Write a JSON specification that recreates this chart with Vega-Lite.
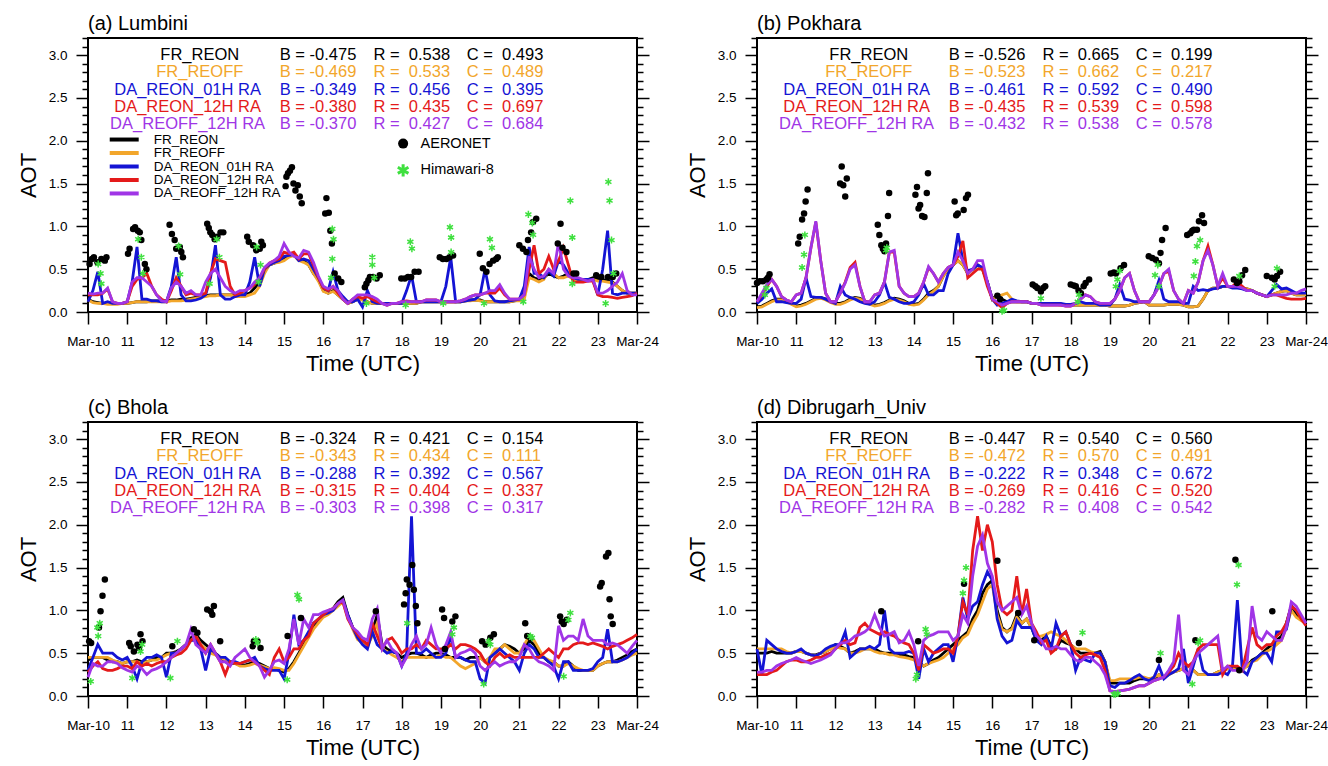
{
"$schema":"https://vega.github.io/schema/vega-lite/v6.json",
"padding":{"left":16,"top":13,"right":4,"bottom":4},
"config":{"font":"Liberation Sans","view":{"stroke":"black","strokeWidth":2}},
"columns":2,
"spacing":{"row":110,"column":120},
"bounds":"flush",
"datasets":{
"la":[
{"d":10,"k":0.15,"o":0.14,"b":0.12,"r":0.2,"v":0.22},{"d":10.125,"k":0.12,"o":0.11,"b":0.25,"r":0.2,"v":0.21},{"d":10.25,"k":0.11,"o":0.1,"b":0.47,"r":0.2,"v":0.22},{"d":10.375,"k":0.1,"o":0.1,"b":0.1,"r":0.22,"v":0.22},{"d":10.5,"k":0.1,"o":0.09,"b":0.12,"r":0.27,"v":0.28},{"d":10.625,"k":0.1,"o":0.09,"b":0.1,"r":0.12,"v":0.12},{"d":10.75,"k":0.1,"o":0.09,"b":0.1,"r":0.1,"v":0.1},{"d":10.875,"k":0.1,"o":0.1,"b":0.1,"r":0.1,"v":0.1},
{"d":11,"k":0.1,"o":0.1,"b":0.12,"r":0.12,"v":0.12},{"d":11.125,"k":0.11,"o":0.11,"b":0.35,"r":0.3,"v":0.35},{"d":11.25,"k":0.12,"o":0.12,"b":0.76,"r":0.38,"v":0.4},{"d":11.375,"k":0.12,"o":0.12,"b":0.15,"r":0.4,"v":0.4},{"d":11.5,"k":0.12,"o":0.12,"b":0.15,"r":0.45,"v":0.35},{"d":11.625,"k":0.13,"o":0.12,"b":0.13,"r":0.3,"v":0.3},{"d":11.75,"k":0.13,"o":0.12,"b":0.13,"r":0.2,"v":0.2},{"d":11.875,"k":0.13,"o":0.12,"b":0.12,"r":0.15,"v":0.13},
{"d":12,"k":0.13,"o":0.12,"b":0.12,"r":0.12,"v":0.12},{"d":12.125,"k":0.14,"o":0.13,"b":0.3,"r":0.25,"v":0.28},{"d":12.25,"k":0.14,"o":0.13,"b":0.64,"r":0.4,"v":0.35},{"d":12.375,"k":0.15,"o":0.13,"b":0.2,"r":0.3,"v":0.3},{"d":12.5,"k":0.15,"o":0.14,"b":0.13,"r":0.2,"v":0.22},{"d":12.625,"k":0.16,"o":0.15,"b":0.13,"r":0.22,"v":0.25},{"d":12.75,"k":0.17,"o":0.16,"b":0.14,"r":0.2,"v":0.2},{"d":12.875,"k":0.18,"o":0.17,"b":0.16,"r":0.2,"v":0.2},
{"d":13,"k":0.19,"o":0.18,"b":0.2,"r":0.22,"v":0.35},{"d":13.125,"k":0.2,"o":0.19,"b":0.4,"r":0.45,"v":0.45},{"d":13.25,"k":0.2,"o":0.19,"b":0.78,"r":0.62,"v":0.5},{"d":13.375,"k":0.2,"o":0.2,"b":0.2,"r":0.6,"v":0.4},{"d":13.5,"k":0.2,"o":0.2,"b":0.15,"r":0.58,"v":0.3},{"d":13.625,"k":0.2,"o":0.2,"b":0.15,"r":0.3,"v":0.25},{"d":13.75,"k":0.2,"o":0.18,"b":0.18,"r":0.2,"v":0.22},{"d":13.875,"k":0.2,"o":0.18,"b":0.2,"r":0.22,"v":0.25},
{"d":14,"k":0.2,"o":0.18,"b":0.2,"r":0.25,"v":0.25},{"d":14.125,"k":0.22,"o":0.2,"b":0.35,"r":0.28,"v":0.28},{"d":14.25,"k":0.28,"o":0.22,"b":0.64,"r":0.32,"v":0.35},{"d":14.375,"k":0.35,"o":0.3,"b":0.3,"r":0.4,"v":0.4},{"d":14.5,"k":0.48,"o":0.45,"b":0.5,"r":0.5,"v":0.52},{"d":14.625,"k":0.55,"o":0.55,"b":0.55,"r":0.57,"v":0.57},{"d":14.75,"k":0.57,"o":0.57,"b":0.58,"r":0.6,"v":0.6},{"d":14.875,"k":0.6,"o":0.58,"b":0.6,"r":0.62,"v":0.65},
{"d":15,"k":0.62,"o":0.6,"b":0.65,"r":0.7,"v":0.8},{"d":15.125,"k":0.65,"o":0.64,"b":0.66,"r":0.68,"v":0.7},{"d":15.25,"k":0.68,"o":0.66,"b":0.67,"r":0.7,"v":0.65},{"d":15.375,"k":0.62,"o":0.6,"b":0.6,"r":0.62,"v":0.63},{"d":15.5,"k":0.6,"o":0.58,"b":0.62,"r":0.68,"v":0.72},{"d":15.625,"k":0.55,"o":0.55,"b":0.6,"r":0.68,"v":0.7},{"d":15.75,"k":0.45,"o":0.45,"b":0.5,"r":0.55,"v":0.58},{"d":15.875,"k":0.38,"o":0.36,"b":0.4,"r":0.4,"v":0.42},
{"d":16,"k":0.25,"o":0.24,"b":0.28,"r":0.28,"v":0.3},{"d":16.125,"k":0.22,"o":0.22,"b":0.25,"r":0.25,"v":0.27},{"d":16.25,"k":0.25,"o":0.24,"b":0.47,"r":0.3,"v":0.3},{"d":16.375,"k":0.2,"o":0.2,"b":0.25,"r":0.22,"v":0.25},{"d":16.5,"k":0.15,"o":0.15,"b":0.18,"r":0.15,"v":0.15},{"d":16.625,"k":0.1,"o":0.1,"b":0.12,"r":0.1,"v":0.1},{"d":16.75,"k":0.12,"o":0.12,"b":0.12,"r":0.15,"v":0.15},{"d":16.875,"k":0.15,"o":0.15,"b":0.15,"r":0.18,"v":0.2},
{"d":17,"k":0.15,"o":0.14,"b":0.06,"r":0.16,"v":0.2},{"d":17.125,"k":0.12,"o":0.12,"b":0.25,"r":0.18,"v":0.2},{"d":17.25,"k":0.1,"o":0.1,"b":0.12,"r":0.15,"v":0.18},{"d":17.375,"k":0.1,"o":0.1,"b":0.1,"r":0.12,"v":0.15},{"d":17.5,"k":0.1,"o":0.1,"b":0.1,"r":0.1,"v":0.1},{"d":17.625,"k":0.1,"o":0.1,"b":0.1,"r":0.08,"v":0.08},{"d":17.75,"k":0.1,"o":0.1,"b":0.1,"r":0.1,"v":0.1},{"d":17.875,"k":0.1,"o":0.1,"b":0.1,"r":0.1,"v":0.1},
{"d":18,"k":0.1,"o":0.1,"b":0.1,"r":0.12,"v":0.12},{"d":18.125,"k":0.1,"o":0.1,"b":0.25,"r":0.13,"v":0.12},{"d":18.25,"k":0.1,"o":0.1,"b":0.43,"r":0.12,"v":0.12},{"d":18.375,"k":0.1,"o":0.1,"b":0.12,"r":0.12,"v":0.12},{"d":18.5,"k":0.12,"o":0.12,"b":0.12,"r":0.12,"v":0.12},{"d":18.625,"k":0.12,"o":0.12,"b":0.12,"r":0.14,"v":0.14},{"d":18.75,"k":0.12,"o":0.12,"b":0.12,"r":0.14,"v":0.14},{"d":18.875,"k":0.12,"o":0.12,"b":0.12,"r":0.14,"v":0.14},
{"d":19,"k":0.12,"o":0.12,"b":0.12,"r":0.12,"v":0.12},{"d":19.125,"k":0.12,"o":0.12,"b":0.3,"r":0.12,"v":0.12},{"d":19.25,"k":0.12,"o":0.12,"b":0.64,"r":0.12,"v":0.12},{"d":19.375,"k":0.12,"o":0.12,"b":0.12,"r":0.12,"v":0.12},{"d":19.5,"k":0.12,"o":0.12,"b":0.12,"r":0.13,"v":0.13},{"d":19.625,"k":0.13,"o":0.13,"b":0.13,"r":0.15,"v":0.15},{"d":19.75,"k":0.14,"o":0.13,"b":0.14,"r":0.18,"v":0.18},{"d":19.875,"k":0.14,"o":0.14,"b":0.15,"r":0.2,"v":0.2},
{"d":20,"k":0.14,"o":0.13,"b":0.2,"r":0.2,"v":0.2},{"d":20.125,"k":0.12,"o":0.12,"b":0.5,"r":0.22,"v":0.22},{"d":20.25,"k":0.12,"o":0.12,"b":0.2,"r":0.22,"v":0.25},{"d":20.375,"k":0.12,"o":0.12,"b":0.13,"r":0.22,"v":0.25},{"d":20.5,"k":0.12,"o":0.12,"b":0.12,"r":0.28,"v":0.32},{"d":20.625,"k":0.12,"o":0.12,"b":0.12,"r":0.2,"v":0.22},{"d":20.75,"k":0.12,"o":0.12,"b":0.13,"r":0.15,"v":0.15},{"d":20.875,"k":0.13,"o":0.13,"b":0.14,"r":0.15,"v":0.15},
{"d":21,"k":0.14,"o":0.13,"b":0.15,"r":0.15,"v":0.15},{"d":21.125,"k":0.2,"o":0.15,"b":0.3,"r":0.2,"v":0.2},{"d":21.25,"k":0.45,"o":0.4,"b":0.76,"r":0.5,"v":0.65},{"d":21.375,"k":0.4,"o":0.38,"b":0.45,"r":0.78,"v":0.5},{"d":21.5,"k":0.38,"o":0.35,"b":0.45,"r":0.45,"v":0.4},{"d":21.625,"k":0.4,"o":0.38,"b":0.4,"r":0.5,"v":0.42},{"d":21.75,"k":0.45,"o":0.5,"b":0.48,"r":0.65,"v":0.5},{"d":21.875,"k":0.42,"o":0.45,"b":0.42,"r":0.5,"v":0.45},
{"d":22,"k":0.4,"o":0.4,"b":0.6,"r":0.6,"v":0.82},{"d":22.125,"k":0.42,"o":0.4,"b":0.55,"r":0.75,"v":0.5},{"d":22.25,"k":0.45,"o":0.42,"b":0.45,"r":0.55,"v":0.42},{"d":22.375,"k":0.4,"o":0.38,"b":0.4,"r":0.35,"v":0.4},{"d":22.5,"k":0.38,"o":0.36,"b":0.38,"r":0.35,"v":0.4},{"d":22.625,"k":0.38,"o":0.38,"b":0.38,"r":0.35,"v":0.38},{"d":22.75,"k":0.38,"o":0.38,"b":0.38,"r":0.36,"v":0.36},{"d":22.875,"k":0.4,"o":0.38,"b":0.38,"r":0.36,"v":0.38},
{"d":23,"k":0.38,"o":0.36,"b":0.2,"r":0.2,"v":0.22},{"d":23.125,"k":0.38,"o":0.36,"b":0.5,"r":0.18,"v":0.22},{"d":23.25,"k":0.36,"o":0.35,"b":0.95,"r":0.18,"v":0.25},{"d":23.375,"k":0.35,"o":0.34,"b":0.22,"r":0.17,"v":0.3},{"d":23.5,"k":0.3,"o":0.3,"b":0.2,"r":0.16,"v":0.35},{"d":23.625,"k":0.25,"o":0.25,"b":0.22,"r":0.17,"v":0.45},{"d":23.75,"k":0.22,"o":0.22,"b":0.22,"r":0.18,"v":0.25},{"d":23.875,"k":0.22,"o":0.22,"b":0.22,"r":0.19,"v":0.2},
{"d":24,"k":0.22,"o":0.22,"b":0.22,"r":0.22,"v":0.2}],
"lb":[
{"d":10,"k":0.06,"o":0.05,"b":0.1,"r":0.12,"v":0.12},{"d":10.125,"k":0.07,"o":0.06,"b":0.15,"r":0.2,"v":0.22},{"d":10.25,"k":0.1,"o":0.09,"b":0.22,"r":0.3,"v":0.32},{"d":10.375,"k":0.13,"o":0.12,"b":0.27,"r":0.38,"v":0.38},{"d":10.5,"k":0.15,"o":0.14,"b":0.12,"r":0.3,"v":0.3},{"d":10.625,"k":0.15,"o":0.14,"b":0.12,"r":0.18,"v":0.18},{"d":10.75,"k":0.13,"o":0.12,"b":0.11,"r":0.14,"v":0.14},{"d":10.875,"k":0.1,"o":0.09,"b":0.1,"r":0.12,"v":0.12},
{"d":11,"k":0.07,"o":0.06,"b":0.1,"r":0.2,"v":0.2},{"d":11.125,"k":0.08,"o":0.07,"b":0.15,"r":0.22,"v":0.22},{"d":11.25,"k":0.1,"o":0.09,"b":0.4,"r":0.4,"v":0.4},{"d":11.375,"k":0.13,"o":0.12,"b":0.18,"r":0.75,"v":0.75},{"d":11.5,"k":0.16,"o":0.15,"b":0.17,"r":1.05,"v":1.06},{"d":11.625,"k":0.17,"o":0.16,"b":0.17,"r":0.6,"v":0.6},{"d":11.75,"k":0.15,"o":0.14,"b":0.15,"r":0.22,"v":0.22},{"d":11.875,"k":0.12,"o":0.11,"b":0.12,"r":0.12,"v":0.12},
{"d":12,"k":0.1,"o":0.09,"b":0.1,"r":0.12,"v":0.12},{"d":12.125,"k":0.1,"o":0.09,"b":0.3,"r":0.22,"v":0.22},{"d":12.25,"k":0.12,"o":0.11,"b":0.2,"r":0.35,"v":0.34},{"d":12.375,"k":0.15,"o":0.14,"b":0.17,"r":0.52,"v":0.5},{"d":12.5,"k":0.17,"o":0.16,"b":0.15,"r":0.58,"v":0.55},{"d":12.625,"k":0.16,"o":0.15,"b":0.12,"r":0.3,"v":0.3},{"d":12.75,"k":0.13,"o":0.12,"b":0.1,"r":0.12,"v":0.12},{"d":12.875,"k":0.1,"o":0.09,"b":0.09,"r":0.12,"v":0.12},
{"d":13,"k":0.08,"o":0.07,"b":0.12,"r":0.2,"v":0.2},{"d":13.125,"k":0.09,"o":0.08,"b":0.2,"r":0.22,"v":0.22},{"d":13.25,"k":0.11,"o":0.1,"b":0.35,"r":0.35,"v":0.35},{"d":13.375,"k":0.14,"o":0.13,"b":0.17,"r":0.7,"v":0.7},{"d":13.5,"k":0.16,"o":0.15,"b":0.15,"r":0.7,"v":0.72},{"d":13.625,"k":0.15,"o":0.14,"b":0.12,"r":0.3,"v":0.3},{"d":13.75,"k":0.13,"o":0.12,"b":0.1,"r":0.22,"v":0.22},{"d":13.875,"k":0.1,"o":0.09,"b":0.1,"r":0.18,"v":0.18},
{"d":14,"k":0.09,"o":0.08,"b":0.12,"r":0.18,"v":0.18},{"d":14.125,"k":0.1,"o":0.09,"b":0.2,"r":0.22,"v":0.22},{"d":14.25,"k":0.15,"o":0.14,"b":0.33,"r":0.35,"v":0.35},{"d":14.375,"k":0.22,"o":0.2,"b":0.2,"r":0.52,"v":0.53},{"d":14.5,"k":0.25,"o":0.24,"b":0.2,"r":0.45,"v":0.45},{"d":14.625,"k":0.3,"o":0.3,"b":0.25,"r":0.35,"v":0.35},{"d":14.75,"k":0.42,"o":0.42,"b":0.25,"r":0.45,"v":0.45},{"d":14.875,"k":0.5,"o":0.5,"b":0.45,"r":0.52,"v":0.52},
{"d":15,"k":0.55,"o":0.55,"b":0.55,"r":0.55,"v":0.55},{"d":15.125,"k":0.6,"o":0.6,"b":0.92,"r":0.65,"v":0.7},{"d":15.25,"k":0.55,"o":0.55,"b":0.6,"r":0.83,"v":0.6},{"d":15.375,"k":0.45,"o":0.45,"b":0.48,"r":0.4,"v":0.45},{"d":15.5,"k":0.5,"o":0.5,"b":0.5,"r":0.45,"v":0.5},{"d":15.625,"k":0.55,"o":0.55,"b":0.55,"r":0.5,"v":0.6},{"d":15.75,"k":0.5,"o":0.5,"b":0.52,"r":0.5,"v":0.6},{"d":15.875,"k":0.35,"o":0.35,"b":0.35,"r":0.3,"v":0.35},
{"d":16,"k":0.15,"o":0.15,"b":0.15,"r":0.15,"v":0.15},{"d":16.125,"k":0.2,"o":0.18,"b":0.08,"r":0.1,"v":0.12},{"d":16.25,"k":0.15,"o":0.2,"b":0.1,"r":0.05,"v":0.08},{"d":16.375,"k":0.12,"o":0.22,"b":0.12,"r":0.1,"v":0.1},{"d":16.5,"k":0.12,"o":0.15,"b":0.15,"r":0.12,"v":0.12},{"d":16.625,"k":0.12,"o":0.12,"b":0.13,"r":0.12,"v":0.12},{"d":16.75,"k":0.12,"o":0.12,"b":0.12,"r":0.12,"v":0.12},{"d":16.875,"k":0.12,"o":0.12,"b":0.12,"r":0.12,"v":0.12},
{"d":17,"k":0.1,"o":0.1,"b":0.1,"r":0.1,"v":0.1},{"d":17.125,"k":0.1,"o":0.1,"b":0.1,"r":0.1,"v":0.1},{"d":17.25,"k":0.1,"o":0.1,"b":0.1,"r":0.08,"v":0.08},{"d":17.375,"k":0.09,"o":0.09,"b":0.1,"r":0.08,"v":0.08},{"d":17.5,"k":0.09,"o":0.09,"b":0.1,"r":0.08,"v":0.08},{"d":17.625,"k":0.09,"o":0.09,"b":0.1,"r":0.08,"v":0.08},{"d":17.75,"k":0.09,"o":0.08,"b":0.1,"r":0.08,"v":0.08},{"d":17.875,"k":0.08,"o":0.08,"b":0.09,"r":0.07,"v":0.07},
{"d":18,"k":0.08,"o":0.08,"b":0.09,"r":0.07,"v":0.07},{"d":18.125,"k":0.08,"o":0.08,"b":0.1,"r":0.1,"v":0.1},{"d":18.25,"k":0.08,"o":0.08,"b":0.12,"r":0.15,"v":0.15},{"d":18.375,"k":0.08,"o":0.08,"b":0.1,"r":0.2,"v":0.2},{"d":18.5,"k":0.08,"o":0.08,"b":0.1,"r":0.18,"v":0.18},{"d":18.625,"k":0.08,"o":0.08,"b":0.1,"r":0.12,"v":0.12},{"d":18.75,"k":0.08,"o":0.08,"b":0.08,"r":0.1,"v":0.1},{"d":18.875,"k":0.08,"o":0.08,"b":0.08,"r":0.1,"v":0.1},
{"d":19,"k":0.07,"o":0.07,"b":0.08,"r":0.1,"v":0.1},{"d":19.125,"k":0.07,"o":0.07,"b":0.15,"r":0.15,"v":0.15},{"d":19.25,"k":0.07,"o":0.07,"b":0.32,"r":0.25,"v":0.25},{"d":19.375,"k":0.07,"o":0.07,"b":0.15,"r":0.4,"v":0.4},{"d":19.5,"k":0.08,"o":0.08,"b":0.14,"r":0.45,"v":0.45},{"d":19.625,"k":0.1,"o":0.1,"b":0.12,"r":0.25,"v":0.25},{"d":19.75,"k":0.11,"o":0.11,"b":0.12,"r":0.12,"v":0.12},{"d":19.875,"k":0.12,"o":0.12,"b":0.12,"r":0.12,"v":0.12},
{"d":20,"k":0.08,"o":0.08,"b":0.12,"r":0.12,"v":0.12},{"d":20.125,"k":0.08,"o":0.08,"b":0.2,"r":0.2,"v":0.2},{"d":20.25,"k":0.08,"o":0.08,"b":0.37,"r":0.3,"v":0.3},{"d":20.375,"k":0.08,"o":0.08,"b":0.15,"r":0.45,"v":0.45},{"d":20.5,"k":0.09,"o":0.09,"b":0.12,"r":0.48,"v":0.5},{"d":20.625,"k":0.09,"o":0.09,"b":0.12,"r":0.25,"v":0.25},{"d":20.75,"k":0.09,"o":0.09,"b":0.12,"r":0.15,"v":0.15},{"d":20.875,"k":0.08,"o":0.08,"b":0.1,"r":0.1,"v":0.1},
{"d":21,"k":0.06,"o":0.06,"b":0.1,"r":0.25,"v":0.25},{"d":21.125,"k":0.06,"o":0.06,"b":0.3,"r":0.22,"v":0.22},{"d":21.25,"k":0.07,"o":0.07,"b":0.25,"r":0.35,"v":0.35},{"d":21.375,"k":0.15,"o":0.15,"b":0.26,"r":0.6,"v":0.6},{"d":21.5,"k":0.25,"o":0.25,"b":0.25,"r":0.77,"v":0.72},{"d":21.625,"k":0.28,"o":0.28,"b":0.27,"r":0.55,"v":0.55},{"d":21.75,"k":0.28,"o":0.28,"b":0.28,"r":0.3,"v":0.3},{"d":21.875,"k":0.3,"o":0.3,"b":0.3,"r":0.4,"v":0.45},
{"d":22,"k":0.3,"o":0.3,"b":0.3,"r":0.3,"v":0.3},{"d":22.125,"k":0.3,"o":0.3,"b":0.28,"r":0.3,"v":0.3},{"d":22.25,"k":0.3,"o":0.3,"b":0.28,"r":0.35,"v":0.3},{"d":22.375,"k":0.28,"o":0.28,"b":0.27,"r":0.3,"v":0.28},{"d":22.5,"k":0.27,"o":0.27,"b":0.25,"r":0.25,"v":0.25},{"d":22.625,"k":0.25,"o":0.25,"b":0.25,"r":0.25,"v":0.25},{"d":22.75,"k":0.22,"o":0.22,"b":0.22,"r":0.22,"v":0.22},{"d":22.875,"k":0.2,"o":0.2,"b":0.2,"r":0.2,"v":0.2},
{"d":23,"k":0.18,"o":0.18,"b":0.18,"r":0.18,"v":0.18},{"d":23.125,"k":0.2,"o":0.2,"b":0.25,"r":0.2,"v":0.2},{"d":23.25,"k":0.22,"o":0.22,"b":0.32,"r":0.2,"v":0.2},{"d":23.375,"k":0.24,"o":0.24,"b":0.27,"r":0.18,"v":0.2},{"d":23.5,"k":0.25,"o":0.25,"b":0.28,"r":0.16,"v":0.2},{"d":23.625,"k":0.22,"o":0.22,"b":0.25,"r":0.15,"v":0.22},{"d":23.75,"k":0.2,"o":0.2,"b":0.22,"r":0.15,"v":0.22},{"d":23.875,"k":0.2,"o":0.2,"b":0.22,"r":0.15,"v":0.25},
{"d":24,"k":0.2,"o":0.2,"b":0.22,"r":0.16,"v":0.27}],
"lc":[
{"d":10,"k":0.42,"o":0.45,"b":0.3,"r":0.28,"v":0.22},{"d":10.125,"k":0.45,"o":0.45,"b":0.45,"r":0.35,"v":0.38},{"d":10.25,"k":0.45,"o":0.45,"b":0.6,"r":0.4,"v":0.35},{"d":10.375,"k":0.45,"o":0.45,"b":0.5,"r":0.32,"v":0.35},{"d":10.5,"k":0.42,"o":0.45,"b":0.5,"r":0.3,"v":0.4},{"d":10.625,"k":0.4,"o":0.42,"b":0.5,"r":0.3,"v":0.4},{"d":10.75,"k":0.4,"o":0.4,"b":0.45,"r":0.32,"v":0.38},{"d":10.875,"k":0.38,"o":0.38,"b":0.42,"r":0.35,"v":0.33},
{"d":11,"k":0.4,"o":0.4,"b":0.45,"r":0.35,"v":0.3},{"d":11.125,"k":0.4,"o":0.4,"b":0.35,"r":0.32,"v":0.28},{"d":11.25,"k":0.42,"o":0.4,"b":0.2,"r":0.4,"v":0.35},{"d":11.375,"k":0.4,"o":0.38,"b":0.4,"r":0.35,"v":0.32},{"d":11.5,"k":0.4,"o":0.4,"b":0.45,"r":0.38,"v":0.25},{"d":11.625,"k":0.42,"o":0.42,"b":0.45,"r":0.35,"v":0.3},{"d":11.75,"k":0.45,"o":0.42,"b":0.48,"r":0.38,"v":0.32},{"d":11.875,"k":0.45,"o":0.45,"b":0.45,"r":0.4,"v":0.35},
{"d":12,"k":0.5,"o":0.48,"b":0.22,"r":0.4,"v":0.4},{"d":12.125,"k":0.5,"o":0.5,"b":0.5,"r":0.45,"v":0.45},{"d":12.25,"k":0.52,"o":0.5,"b":0.5,"r":0.48,"v":0.5},{"d":12.375,"k":0.55,"o":0.55,"b":0.55,"r":0.5,"v":0.55},{"d":12.5,"k":0.6,"o":0.6,"b":0.6,"r":0.55,"v":0.6},{"d":12.625,"k":0.68,"o":0.65,"b":0.65,"r":0.65,"v":0.78},{"d":12.75,"k":0.72,"o":0.7,"b":0.65,"r":0.7,"v":0.6},{"d":12.875,"k":0.65,"o":0.6,"b":0.55,"r":0.6,"v":0.55},
{"d":13,"k":0.6,"o":0.55,"b":0.3,"r":0.5,"v":0.5},{"d":13.125,"k":0.55,"o":0.5,"b":0.55,"r":0.6,"v":0.6},{"d":13.25,"k":0.5,"o":0.48,"b":0.5,"r":0.5,"v":0.5},{"d":13.375,"k":0.45,"o":0.45,"b":0.45,"r":0.4,"v":0.4},{"d":13.5,"k":0.4,"o":0.42,"b":0.45,"r":0.25,"v":0.4},{"d":13.625,"k":0.38,"o":0.4,"b":0.4,"r":0.4,"v":0.35},{"d":13.75,"k":0.38,"o":0.38,"b":0.4,"r":0.38,"v":0.45},{"d":13.875,"k":0.36,"o":0.35,"b":0.38,"r":0.38,"v":0.5},
{"d":14,"k":0.36,"o":0.35,"b":0.4,"r":0.4,"v":0.55},{"d":14.125,"k":0.38,"o":0.36,"b":0.42,"r":0.42,"v":0.45},{"d":14.25,"k":0.4,"o":0.38,"b":0.45,"r":0.4,"v":0.4},{"d":14.375,"k":0.38,"o":0.36,"b":0.35,"r":0.35,"v":0.35},{"d":14.5,"k":0.35,"o":0.34,"b":0.32,"r":0.3,"v":0.22},{"d":14.625,"k":0.32,"o":0.32,"b":0.3,"r":0.25,"v":0.3},{"d":14.75,"k":0.32,"o":0.33,"b":0.3,"r":0.45,"v":0.4},{"d":14.875,"k":0.3,"o":0.32,"b":0.3,"r":0.55,"v":0.42},
{"d":15,"k":0.28,"o":0.3,"b":0.2,"r":0.4,"v":0.38},{"d":15.125,"k":0.32,"o":0.3,"b":0.5,"r":0.45,"v":0.55},{"d":15.25,"k":0.4,"o":0.38,"b":0.95,"r":0.55,"v":0.9},{"d":15.375,"k":0.5,"o":0.48,"b":0.6,"r":0.55,"v":0.6},{"d":15.5,"k":0.6,"o":0.58,"b":0.65,"r":0.65,"v":0.9},{"d":15.625,"k":0.7,"o":0.68,"b":0.75,"r":0.7,"v":0.8},{"d":15.75,"k":0.8,"o":0.78,"b":0.85,"r":0.85,"v":0.95},{"d":15.875,"k":0.88,"o":0.85,"b":0.9,"r":0.9,"v":0.95},
{"d":16,"k":0.95,"o":0.92,"b":0.95,"r":0.95,"v":0.98},{"d":16.125,"k":0.98,"o":0.95,"b":0.97,"r":1.0,"v":1.0},{"d":16.25,"k":1.02,"o":1.0,"b":1.0,"r":1.02,"v":1.02},{"d":16.375,"k":1.1,"o":1.05,"b":1.08,"r":1.08,"v":1.08},{"d":16.5,"k":1.15,"o":1.1,"b":1.12,"r":1.1,"v":1.12},{"d":16.625,"k":0.95,"o":0.92,"b":0.95,"r":0.9,"v":0.92},{"d":16.75,"k":0.8,"o":0.78,"b":0.8,"r":0.8,"v":0.8},{"d":16.875,"k":0.68,"o":0.66,"b":0.68,"r":0.72,"v":0.75},
{"d":17,"k":0.65,"o":0.62,"b":0.6,"r":0.65,"v":0.68},{"d":17.125,"k":0.6,"o":0.58,"b":0.55,"r":0.6,"v":0.65},{"d":17.25,"k":0.75,"o":0.7,"b":0.75,"r":0.85,"v":0.9},{"d":17.375,"k":0.95,"o":0.85,"b":0.6,"r":0.7,"v":1.02},{"d":17.5,"k":0.6,"o":0.55,"b":0.55,"r":0.55,"v":0.55},{"d":17.625,"k":0.55,"o":0.52,"b":0.5,"r":0.65,"v":0.65},{"d":17.75,"k":0.52,"o":0.48,"b":0.52,"r":0.68,"v":0.55},{"d":17.875,"k":0.5,"o":0.45,"b":0.5,"r":0.6,"v":0.5},
{"d":18,"k":0.45,"o":0.4,"b":0.35,"r":0.5,"v":0.35},{"d":18.125,"k":0.48,"o":0.45,"b":0.5,"r":0.55,"v":0.45},{"d":18.25,"k":0.5,"o":0.45,"b":2.1,"r":0.55,"v":0.6},{"d":18.375,"k":0.5,"o":0.45,"b":0.5,"r":0.6,"v":0.7},{"d":18.5,"k":0.48,"o":0.45,"b":0.5,"r":0.55,"v":0.55},{"d":18.625,"k":0.45,"o":0.45,"b":0.55,"r":0.65,"v":0.6},{"d":18.75,"k":0.48,"o":0.45,"b":0.5,"r":0.6,"v":0.8},{"d":18.875,"k":0.5,"o":0.45,"b":0.45,"r":0.55,"v":0.6},
{"d":19,"k":0.5,"o":0.48,"b":0.45,"r":0.55,"v":0.5},{"d":19.125,"k":0.48,"o":0.45,"b":0.5,"r":0.55,"v":0.6},{"d":19.25,"k":0.45,"o":0.45,"b":0.7,"r":0.6,"v":0.75},{"d":19.375,"k":0.45,"o":0.4,"b":0.45,"r":0.55,"v":0.45},{"d":19.5,"k":0.45,"o":0.35,"b":0.45,"r":0.6,"v":0.5},{"d":19.625,"k":0.42,"o":0.32,"b":0.42,"r":0.6,"v":0.52},{"d":19.75,"k":0.45,"o":0.35,"b":0.4,"r":0.58,"v":0.55},{"d":19.875,"k":0.45,"o":0.38,"b":0.4,"r":0.55,"v":0.5},
{"d":20,"k":0.45,"o":0.45,"b":0.2,"r":0.5,"v":0.35},{"d":20.125,"k":0.4,"o":0.4,"b":0.15,"r":0.4,"v":0.3},{"d":20.25,"k":0.45,"o":0.45,"b":0.45,"r":0.35,"v":0.35},{"d":20.375,"k":0.5,"o":0.55,"b":0.5,"r":0.45,"v":0.4},{"d":20.5,"k":0.55,"o":0.55,"b":0.55,"r":0.5,"v":0.35},{"d":20.625,"k":0.6,"o":0.6,"b":0.5,"r":0.45,"v":0.38},{"d":20.75,"k":0.58,"o":0.55,"b":0.45,"r":0.48,"v":0.4},{"d":20.875,"k":0.55,"o":0.5,"b":0.4,"r":0.45,"v":0.4},
{"d":21,"k":0.5,"o":0.5,"b":0.3,"r":0.45,"v":0.45},{"d":21.125,"k":0.55,"o":0.6,"b":0.5,"r":0.45,"v":0.6},{"d":21.25,"k":0.65,"o":0.7,"b":0.6,"r":0.45,"v":0.55},{"d":21.375,"k":0.6,"o":0.65,"b":0.55,"r":0.45,"v":0.45},{"d":21.5,"k":0.5,"o":0.55,"b":0.45,"r":0.45,"v":0.4},{"d":21.625,"k":0.45,"o":0.45,"b":0.45,"r":0.5,"v":0.38},{"d":21.75,"k":0.4,"o":0.42,"b":0.4,"r":0.55,"v":0.35},{"d":21.875,"k":0.4,"o":0.4,"b":0.35,"r":0.5,"v":0.3},
{"d":22,"k":0.35,"o":0.35,"b":0.2,"r":0.45,"v":0.82},{"d":22.125,"k":0.35,"o":0.35,"b":0.4,"r":0.55,"v":0.65},{"d":22.25,"k":0.4,"o":0.38,"b":0.4,"r":0.55,"v":0.7},{"d":22.375,"k":0.35,"o":0.35,"b":0.3,"r":0.6,"v":0.7},{"d":22.5,"k":0.3,"o":0.32,"b":0.3,"r":0.62,"v":0.65},{"d":22.625,"k":0.3,"o":0.3,"b":0.3,"r":0.62,"v":0.9},{"d":22.75,"k":0.3,"o":0.3,"b":0.3,"r":0.6,"v":0.7},{"d":22.875,"k":0.3,"o":0.3,"b":0.32,"r":0.62,"v":0.65},
{"d":23,"k":0.35,"o":0.35,"b":0.4,"r":0.6,"v":0.65},{"d":23.125,"k":0.38,"o":0.38,"b":0.45,"r":0.58,"v":0.65},{"d":23.25,"k":0.4,"o":0.4,"b":0.78,"r":0.55,"v":0.6},{"d":23.375,"k":0.4,"o":0.4,"b":0.4,"r":0.58,"v":0.62},{"d":23.5,"k":0.42,"o":0.4,"b":0.4,"r":0.6,"v":0.6},{"d":23.625,"k":0.45,"o":0.42,"b":0.42,"r":0.62,"v":0.55},{"d":23.75,"k":0.48,"o":0.45,"b":0.45,"r":0.65,"v":0.5},{"d":23.875,"k":0.52,"o":0.48,"b":0.5,"r":0.68,"v":0.58},
{"d":24,"k":0.55,"o":0.5,"b":0.55,"r":0.72,"v":0.65}],
"ld":[
{"d":10,"k":0.5,"o":0.55,"b":0.55,"r":0.25,"v":0.28},{"d":10.125,"k":0.5,"o":0.55,"b":0.25,"r":0.25,"v":0.28},{"d":10.25,"k":0.5,"o":0.55,"b":0.65,"r":0.25,"v":0.3},{"d":10.375,"k":0.52,"o":0.55,"b":0.6,"r":0.28,"v":0.3},{"d":10.5,"k":0.5,"o":0.55,"b":0.55,"r":0.3,"v":0.35},{"d":10.625,"k":0.5,"o":0.55,"b":0.52,"r":0.35,"v":0.38},{"d":10.75,"k":0.5,"o":0.52,"b":0.5,"r":0.4,"v":0.4},{"d":10.875,"k":0.5,"o":0.5,"b":0.5,"r":0.42,"v":0.42},
{"d":11,"k":0.52,"o":0.52,"b":0.52,"r":0.42,"v":0.45},{"d":11.125,"k":0.52,"o":0.52,"b":0.55,"r":0.4,"v":0.42},{"d":11.25,"k":0.5,"o":0.5,"b":0.5,"r":0.4,"v":0.4},{"d":11.375,"k":0.48,"o":0.48,"b":0.48,"r":0.42,"v":0.38},{"d":11.5,"k":0.48,"o":0.47,"b":0.47,"r":0.45,"v":0.4},{"d":11.625,"k":0.5,"o":0.5,"b":0.5,"r":0.45,"v":0.42},{"d":11.75,"k":0.52,"o":0.52,"b":0.55,"r":0.48,"v":0.45},{"d":11.875,"k":0.55,"o":0.55,"b":0.58,"r":0.5,"v":0.48},
{"d":12,"k":0.6,"o":0.58,"b":0.6,"r":0.55,"v":0.55},{"d":12.125,"k":0.58,"o":0.56,"b":0.6,"r":0.6,"v":0.62},{"d":12.25,"k":0.55,"o":0.55,"b":0.75,"r":0.65,"v":0.62},{"d":12.375,"k":0.5,"o":0.5,"b":0.45,"r":0.6,"v":0.65},{"d":12.5,"k":0.52,"o":0.5,"b":0.5,"r":0.62,"v":0.7},{"d":12.625,"k":0.55,"o":0.52,"b":0.55,"r":0.8,"v":0.72},{"d":12.75,"k":0.55,"o":0.55,"b":0.55,"r":0.85,"v":0.75},{"d":12.875,"k":0.55,"o":0.55,"b":0.58,"r":0.78,"v":0.8},
{"d":13,"k":0.55,"o":0.52,"b":0.55,"r":0.75,"v":0.95},{"d":13.125,"k":0.52,"o":0.5,"b":0.6,"r":0.72,"v":0.8},{"d":13.25,"k":0.5,"o":0.5,"b":1.0,"r":0.75,"v":0.7},{"d":13.375,"k":0.5,"o":0.48,"b":0.55,"r":0.72,"v":0.72},{"d":13.5,"k":0.5,"o":0.48,"b":0.5,"r":0.7,"v":0.75},{"d":13.625,"k":0.48,"o":0.46,"b":0.5,"r":0.65,"v":0.62},{"d":13.75,"k":0.48,"o":0.45,"b":0.5,"r":0.62,"v":0.65},{"d":13.875,"k":0.46,"o":0.44,"b":0.52,"r":0.6,"v":0.75},
{"d":14,"k":0.45,"o":0.42,"b":0.5,"r":0.5,"v":0.6},{"d":14.125,"k":0.4,"o":0.38,"b":0.2,"r":0.3,"v":0.35},{"d":14.25,"k":0.35,"o":0.35,"b":0.55,"r":0.6,"v":0.65},{"d":14.375,"k":0.38,"o":0.38,"b":0.4,"r":0.55,"v":0.7},{"d":14.5,"k":0.42,"o":0.4,"b":0.5,"r":0.5,"v":0.72},{"d":14.625,"k":0.45,"o":0.42,"b":0.55,"r":0.52,"v":0.75},{"d":14.75,"k":0.5,"o":0.45,"b":0.6,"r":0.55,"v":0.75},{"d":14.875,"k":0.55,"o":0.5,"b":0.6,"r":0.55,"v":0.75},
{"d":15,"k":0.6,"o":0.55,"b":0.4,"r":0.5,"v":0.65},{"d":15.125,"k":0.65,"o":0.6,"b":0.7,"r":0.7,"v":0.7},{"d":15.25,"k":0.7,"o":0.68,"b":1.15,"r":1.1,"v":0.95},{"d":15.375,"k":0.75,"o":0.72,"b":0.9,"r":0.95,"v":0.85},{"d":15.5,"k":0.9,"o":0.85,"b":1.05,"r":1.7,"v":1.4},{"d":15.625,"k":1.0,"o":0.95,"b":1.1,"r":2.1,"v":1.75},{"d":15.75,"k":1.2,"o":1.1,"b":1.3,"r":1.7,"v":1.88},{"d":15.875,"k":1.3,"o":1.25,"b":1.45,"r":2.0,"v":1.55},
{"d":16,"k":1.35,"o":1.3,"b":1.35,"r":1.8,"v":1.4},{"d":16.125,"k":1.0,"o":0.95,"b":0.9,"r":1.3,"v":1.1},{"d":16.25,"k":0.8,"o":0.78,"b":0.7,"r":1.0,"v":1.0},{"d":16.375,"k":0.75,"o":0.75,"b":0.62,"r":0.95,"v":1.05},{"d":16.5,"k":0.8,"o":0.78,"b":0.65,"r":1.0,"v":1.1},{"d":16.625,"k":0.95,"o":0.92,"b":0.88,"r":1.4,"v":1.15},{"d":16.75,"k":0.85,"o":0.85,"b":0.8,"r":0.95,"v":0.95},{"d":16.875,"k":0.9,"o":0.9,"b":0.8,"r":1.25,"v":1.05},
{"d":17,"k":0.8,"o":0.8,"b":0.8,"r":0.85,"v":0.85},{"d":17.125,"k":0.65,"o":0.7,"b":0.65,"r":0.75,"v":0.7},{"d":17.25,"k":0.65,"o":0.7,"b":0.6,"r":0.62,"v":0.65},{"d":17.375,"k":0.7,"o":0.72,"b":0.7,"r":0.65,"v":0.55},{"d":17.5,"k":0.58,"o":0.75,"b":0.55,"r":0.5,"v":0.55},{"d":17.625,"k":0.55,"o":0.72,"b":0.85,"r":0.55,"v":0.58},{"d":17.75,"k":0.65,"o":0.7,"b":0.7,"r":0.7,"v":0.55},{"d":17.875,"k":0.62,"o":0.65,"b":0.75,"r":0.75,"v":0.55},
{"d":18,"k":0.6,"o":0.6,"b":0.6,"r":0.6,"v":0.48},{"d":18.125,"k":0.55,"o":0.55,"b":0.3,"r":0.5,"v":0.42},{"d":18.25,"k":0.5,"o":0.55,"b":0.45,"r":0.45,"v":0.4},{"d":18.375,"k":0.5,"o":0.55,"b":0.42,"r":0.48,"v":0.45},{"d":18.5,"k":0.5,"o":0.52,"b":0.4,"r":0.5,"v":0.45},{"d":18.625,"k":0.5,"o":0.5,"b":0.5,"r":0.48,"v":0.4},{"d":18.75,"k":0.52,"o":0.5,"b":0.5,"r":0.45,"v":0.35},{"d":18.875,"k":0.4,"o":0.4,"b":0.4,"r":0.3,"v":0.25},
{"d":19,"k":0.15,"o":0.18,"b":0.12,"r":0.06,"v":0.06},{"d":19.125,"k":0.15,"o":0.18,"b":0.1,"r":0.05,"v":0.05},{"d":19.25,"k":0.15,"o":0.2,"b":0.15,"r":0.06,"v":0.06},{"d":19.375,"k":0.15,"o":0.2,"b":0.15,"r":0.07,"v":0.07},{"d":19.5,"k":0.15,"o":0.2,"b":0.18,"r":0.08,"v":0.08},{"d":19.625,"k":0.18,"o":0.2,"b":0.22,"r":0.1,"v":0.1},{"d":19.75,"k":0.2,"o":0.22,"b":0.25,"r":0.12,"v":0.12},{"d":19.875,"k":0.2,"o":0.22,"b":0.2,"r":0.12,"v":0.12},
{"d":20,"k":0.2,"o":0.2,"b":0.18,"r":0.15,"v":0.15},{"d":20.125,"k":0.2,"o":0.22,"b":0.22,"r":0.18,"v":0.18},{"d":20.25,"k":0.25,"o":0.25,"b":0.35,"r":0.2,"v":0.2},{"d":20.375,"k":0.22,"o":0.22,"b":0.2,"r":0.22,"v":0.22},{"d":20.5,"k":0.25,"o":0.25,"b":0.25,"r":0.28,"v":0.3},{"d":20.625,"k":0.28,"o":0.28,"b":0.28,"r":0.35,"v":0.4},{"d":20.75,"k":0.3,"o":0.3,"b":0.32,"r":0.5,"v":0.95},{"d":20.875,"k":0.32,"o":0.32,"b":0.55,"r":0.4,"v":0.3},
{"d":21,"k":0.35,"o":0.35,"b":0.15,"r":0.35,"v":0.25},{"d":21.125,"k":0.3,"o":0.3,"b":0.35,"r":0.4,"v":0.4},{"d":21.25,"k":0.25,"o":0.25,"b":0.55,"r":0.55,"v":0.5},{"d":21.375,"k":0.25,"o":0.25,"b":0.3,"r":0.6,"v":0.55},{"d":21.5,"k":0.25,"o":0.25,"b":0.25,"r":0.6,"v":0.6},{"d":21.625,"k":0.25,"o":0.25,"b":0.25,"r":0.6,"v":0.65},{"d":21.75,"k":0.28,"o":0.28,"b":0.25,"r":0.6,"v":0.7},{"d":21.875,"k":0.3,"o":0.3,"b":0.28,"r":0.25,"v":0.3},
{"d":22,"k":0.32,"o":0.32,"b":0.25,"r":0.35,"v":0.35},{"d":22.125,"k":0.32,"o":0.32,"b":0.35,"r":0.35,"v":0.3},{"d":22.25,"k":0.32,"o":0.3,"b":1.12,"r":0.35,"v":0.3},{"d":22.375,"k":0.32,"o":0.3,"b":0.3,"r":0.3,"v":0.3},{"d":22.5,"k":0.35,"o":0.35,"b":0.25,"r":0.55,"v":0.4},{"d":22.625,"k":0.42,"o":0.4,"b":0.4,"r":0.8,"v":1.05},{"d":22.75,"k":0.45,"o":0.42,"b":0.45,"r":0.6,"v":0.7},{"d":22.875,"k":0.5,"o":0.48,"b":0.5,"r":0.55,"v":0.65},
{"d":23,"k":0.55,"o":0.52,"b":0.5,"r":0.6,"v":0.75},{"d":23.125,"k":0.6,"o":0.55,"b":0.4,"r":0.6,"v":0.7},{"d":23.25,"k":0.65,"o":0.6,"b":0.75,"r":0.7,"v":0.65},{"d":23.375,"k":0.7,"o":0.65,"b":0.75,"r":0.75,"v":0.65},{"d":23.5,"k":0.85,"o":0.8,"b":0.78,"r":0.85,"v":0.8},{"d":23.625,"k":1.05,"o":1.0,"b":1.05,"r":1.05,"v":1.1},{"d":23.75,"k":0.95,"o":0.92,"b":1.0,"r":1.0,"v":1.05},{"d":23.875,"k":0.9,"o":0.88,"b":0.92,"r":0.9,"v":0.95},
{"d":24,"k":0.85,"o":0.85,"b":0.85,"r":0.82,"v":0.85}],
"aer":[
{"p":"a","d":10.04,"aot":0.56},{"p":"a","d":10.1,"aot":0.62},{"p":"a","d":10.15,"aot":0.64},{"p":"a","d":10.24,"aot":0.58},{"p":"a","d":10.34,"aot":0.62},{"p":"a","d":10.43,"aot":0.6},{"p":"a","d":10.47,"aot":0.64},
{"p":"a","d":11.02,"aot":0.68},{"p":"a","d":11.06,"aot":0.74},{"p":"a","d":11.15,"aot":0.97},{"p":"a","d":11.2,"aot":0.99},{"p":"a","d":11.27,"aot":0.95},{"p":"a","d":11.32,"aot":0.93},{"p":"a","d":11.36,"aot":0.84},{"p":"a","d":11.45,"aot":0.56},{"p":"a","d":11.49,"aot":0.5},
{"p":"a","d":12.08,"aot":1.02},{"p":"a","d":12.14,"aot":0.91},{"p":"a","d":12.21,"aot":0.84},{"p":"a","d":12.25,"aot":0.74},{"p":"a","d":12.34,"aot":0.76},{"p":"a","d":12.38,"aot":0.7},{"p":"a","d":12.42,"aot":0.64},
{"p":"a","d":13.04,"aot":1.03},{"p":"a","d":13.08,"aot":0.98},{"p":"a","d":13.12,"aot":0.93},{"p":"a","d":13.17,"aot":0.9},{"p":"a","d":13.23,"aot":0.85},{"p":"a","d":13.3,"aot":0.88},{"p":"a","d":13.38,"aot":0.93},{"p":"a","d":13.45,"aot":0.93},
{"p":"a","d":14.06,"aot":0.88},{"p":"a","d":14.1,"aot":0.82},{"p":"a","d":14.21,"aot":0.78},{"p":"a","d":14.29,"aot":0.72},{"p":"a","d":14.38,"aot":0.74},{"p":"a","d":14.42,"aot":0.82},{"p":"a","d":14.46,"aot":0.78},
{"p":"a","d":15.04,"aot":1.47},{"p":"a","d":15.06,"aot":1.58},{"p":"a","d":15.1,"aot":1.62},{"p":"a","d":15.15,"aot":1.65},{"p":"a","d":15.2,"aot":1.69},{"p":"a","d":15.24,"aot":1.5},{"p":"a","d":15.29,"aot":1.42},{"p":"a","d":15.35,"aot":1.48},{"p":"a","d":15.4,"aot":1.35},{"p":"a","d":15.45,"aot":1.27},
{"p":"a","d":16.05,"aot":1.15},{"p":"a","d":16.08,"aot":1.33},{"p":"a","d":16.14,"aot":1.16},{"p":"a","d":16.18,"aot":0.95},{"p":"a","d":16.22,"aot":0.8},{"p":"a","d":16.29,"aot":0.45},{"p":"a","d":16.38,"aot":0.39},{"p":"a","d":16.46,"aot":0.35},
{"p":"a","d":17.06,"aot":0.29},{"p":"a","d":17.1,"aot":0.33},{"p":"a","d":17.15,"aot":0.37},{"p":"a","d":17.19,"aot":0.41},{"p":"a","d":17.27,"aot":0.41},{"p":"a","d":17.36,"aot":0.39},{"p":"a","d":17.44,"aot":0.43},
{"p":"a","d":17.99,"aot":0.39},{"p":"a","d":18.08,"aot":0.39},{"p":"a","d":18.16,"aot":0.41},{"p":"a","d":18.24,"aot":0.41},{"p":"a","d":18.33,"aot":0.47},{"p":"a","d":18.43,"aot":0.47},
{"p":"a","d":18.97,"aot":0.64},{"p":"a","d":19.05,"aot":0.62},{"p":"a","d":19.14,"aot":0.62},{"p":"a","d":19.22,"aot":0.64},{"p":"a","d":19.31,"aot":0.66},
{"p":"a","d":19.99,"aot":0.68},{"p":"a","d":20.07,"aot":0.51},{"p":"a","d":20.16,"aot":0.47},{"p":"a","d":20.24,"aot":0.56},{"p":"a","d":20.33,"aot":0.6},{"p":"a","d":20.41,"aot":0.62},{"p":"a","d":20.45,"aot":0.64},
{"p":"a","d":21.0,"aot":0.78},{"p":"a","d":21.09,"aot":0.74},{"p":"a","d":21.18,"aot":0.7},{"p":"a","d":21.22,"aot":0.84},{"p":"a","d":21.3,"aot":0.93},{"p":"a","d":21.35,"aot":1.05},{"p":"a","d":21.43,"aot":1.09},
{"p":"a","d":21.98,"aot":0.8},{"p":"a","d":22.05,"aot":1.03},{"p":"a","d":22.1,"aot":0.75},{"p":"a","d":22.2,"aot":0.7},{"p":"a","d":22.38,"aot":0.45},{"p":"a","d":22.45,"aot":0.45},
{"p":"a","d":22.96,"aot":0.43},{"p":"a","d":23.09,"aot":0.41},{"p":"a","d":23.26,"aot":0.41},{"p":"a","d":23.38,"aot":0.41},{"p":"a","d":23.47,"aot":0.45},
{"p":"b","d":10.0,"aot":0.34},{"p":"b","d":10.07,"aot":0.36},{"p":"b","d":10.15,"aot":0.36},{"p":"b","d":10.24,"aot":0.38},{"p":"b","d":10.28,"aot":0.4},{"p":"b","d":10.32,"aot":0.44},
{"p":"b","d":11.05,"aot":0.8},{"p":"b","d":11.09,"aot":0.88},{"p":"b","d":11.15,"aot":1.08},{"p":"b","d":11.2,"aot":1.15},{"p":"b","d":11.24,"aot":1.29},{"p":"b","d":11.29,"aot":1.43},
{"p":"b","d":12.12,"aot":1.5},{"p":"b","d":12.16,"aot":1.7},{"p":"b","d":12.2,"aot":1.48},{"p":"b","d":12.25,"aot":1.35},{"p":"b","d":12.29,"aot":1.56},
{"p":"b","d":13.08,"aot":1.02},{"p":"b","d":13.12,"aot":0.9},{"p":"b","d":13.17,"aot":0.78},{"p":"b","d":13.21,"aot":0.74},{"p":"b","d":13.25,"aot":0.71},{"p":"b","d":13.29,"aot":0.8},{"p":"b","d":13.34,"aot":1.12},{"p":"b","d":13.37,"aot":1.39},
{"p":"b","d":14.04,"aot":1.37},{"p":"b","d":14.08,"aot":1.46},{"p":"b","d":14.12,"aot":1.21},{"p":"b","d":14.16,"aot":1.25},{"p":"b","d":14.21,"aot":1.12},{"p":"b","d":14.27,"aot":1.11},{"p":"b","d":14.33,"aot":1.39},{"p":"b","d":14.36,"aot":1.62},
{"p":"b","d":15.04,"aot":1.29},{"p":"b","d":15.08,"aot":1.13},{"p":"b","d":15.12,"aot":1.15},{"p":"b","d":15.27,"aot":1.19},{"p":"b","d":15.33,"aot":1.33},{"p":"b","d":15.38,"aot":1.37},
{"p":"b","d":16.13,"aot":0.19},{"p":"b","d":16.2,"aot":0.15},
{"p":"b","d":17.03,"aot":0.32},{"p":"b","d":17.1,"aot":0.3},{"p":"b","d":17.15,"aot":0.28},{"p":"b","d":17.24,"aot":0.24},{"p":"b","d":17.3,"aot":0.28},{"p":"b","d":17.35,"aot":0.3},
{"p":"b","d":18.0,"aot":0.32},{"p":"b","d":18.08,"aot":0.31},{"p":"b","d":18.13,"aot":0.3},{"p":"b","d":18.2,"aot":0.25},{"p":"b","d":18.26,"aot":0.22},{"p":"b","d":18.33,"aot":0.3},{"p":"b","d":18.38,"aot":0.34},{"p":"b","d":18.47,"aot":0.38},
{"p":"b","d":19.02,"aot":0.45},{"p":"b","d":19.1,"aot":0.46},{"p":"b","d":19.15,"aot":0.45},{"p":"b","d":19.27,"aot":0.51},{"p":"b","d":19.36,"aot":0.55},
{"p":"b","d":19.99,"aot":0.65},{"p":"b","d":20.08,"aot":0.63},{"p":"b","d":20.17,"aot":0.61},{"p":"b","d":20.25,"aot":0.57},{"p":"b","d":20.29,"aot":0.69},{"p":"b","d":20.33,"aot":0.84},{"p":"b","d":20.42,"aot":0.98},
{"p":"b","d":20.97,"aot":0.9},{"p":"b","d":21.05,"aot":0.92},{"p":"b","d":21.1,"aot":0.95},{"p":"b","d":21.14,"aot":0.96},{"p":"b","d":21.22,"aot":0.96},{"p":"b","d":21.27,"aot":1.06},{"p":"b","d":21.35,"aot":1.13},{"p":"b","d":21.4,"aot":1.04},
{"p":"b","d":22.16,"aot":0.38},{"p":"b","d":22.24,"aot":0.34},{"p":"b","d":22.3,"aot":0.36},{"p":"b","d":22.37,"aot":0.43},{"p":"b","d":22.45,"aot":0.49},
{"p":"b","d":23.0,"aot":0.42},{"p":"b","d":23.13,"aot":0.4},{"p":"b","d":23.2,"aot":0.38},{"p":"b","d":23.26,"aot":0.42},{"p":"b","d":23.34,"aot":0.47},
{"p":"c","d":10.03,"aot":0.64},{"p":"c","d":10.08,"aot":0.62},{"p":"c","d":10.28,"aot":0.8},{"p":"c","d":10.32,"aot":0.99},{"p":"c","d":10.37,"aot":1.17},{"p":"c","d":10.43,"aot":1.36},
{"p":"c","d":11.05,"aot":0.62},{"p":"c","d":11.09,"aot":0.58},{"p":"c","d":11.17,"aot":0.52},{"p":"c","d":11.26,"aot":0.6},{"p":"c","d":11.3,"aot":0.56},{"p":"c","d":11.34,"aot":0.72},{"p":"c","d":11.39,"aot":0.64},
{"p":"c","d":12.15,"aot":0.58},{"p":"c","d":12.7,"aot":0.78},{"p":"c","d":12.79,"aot":0.74},
{"p":"c","d":13.04,"aot":1.01},{"p":"c","d":13.13,"aot":0.99},{"p":"c","d":13.17,"aot":0.95},{"p":"c","d":13.21,"aot":1.05},{"p":"c","d":13.37,"aot":0.64},
{"p":"c","d":14.2,"aot":0.58},{"p":"c","d":14.23,"aot":0.64},{"p":"c","d":14.32,"aot":0.64},{"p":"c","d":14.4,"aot":0.56},
{"p":"c","d":15.09,"aot":0.7},{"p":"c","d":15.43,"aot":0.91},{"p":"c","d":17.34,"aot":0.99},
{"p":"c","d":18.06,"aot":1.07},{"p":"c","d":18.1,"aot":1.2},{"p":"c","d":18.13,"aot":1.36},{"p":"c","d":18.2,"aot":1.3},{"p":"c","d":18.27,"aot":1.53},{"p":"c","d":18.31,"aot":1.24},{"p":"c","d":18.36,"aot":1.05},{"p":"c","d":18.4,"aot":0.85},
{"p":"c","d":19.03,"aot":1.01},{"p":"c","d":19.08,"aot":0.91},{"p":"c","d":19.1,"aot":0.55},{"p":"c","d":19.29,"aot":0.87},{"p":"c","d":19.37,"aot":0.93},
{"p":"c","d":20.05,"aot":0.64},{"p":"c","d":20.14,"aot":0.6},{"p":"c","d":20.26,"aot":0.68},{"p":"c","d":20.35,"aot":0.72},
{"p":"c","d":21.15,"aot":0.85},{"p":"c","d":21.2,"aot":0.7},{"p":"c","d":21.28,"aot":0.68},
{"p":"c","d":22.04,"aot":0.93},{"p":"c","d":22.08,"aot":0.87},{"p":"c","d":22.13,"aot":0.84},{"p":"c","d":22.21,"aot":0.89},
{"p":"c","d":23.06,"aot":1.28},{"p":"c","d":23.1,"aot":1.32},{"p":"c","d":23.21,"aot":1.63},{"p":"c","d":23.27,"aot":1.67},{"p":"c","d":23.3,"aot":1.13},{"p":"c","d":23.33,"aot":0.93},{"p":"c","d":23.38,"aot":0.84},
{"p":"d","d":13.17,"aot":0.99},{"p":"d","d":14.11,"aot":0.64},{"p":"d","d":15.28,"aot":1.31},{"p":"d","d":16.13,"aot":1.58},{"p":"d","d":16.66,"aot":0.97},{"p":"d","d":17.07,"aot":0.65},{"p":"d","d":18.21,"aot":0.62},{"p":"d","d":20.25,"aot":0.42},{"p":"d","d":21.18,"aot":0.65},{"p":"d","d":22.2,"aot":1.59},{"p":"d","d":22.3,"aot":0.3},{"p":"d","d":23.14,"aot":0.99}],
"him":[
{"p":"a","d":10.26,"aot":0.56},{"p":"a","d":10.32,"aot":0.45},{"p":"a","d":10.34,"aot":0.33},{"p":"a","d":11.28,"aot":0.85},{"p":"a","d":11.36,"aot":0.64},{"p":"a","d":11.4,"aot":0.45},{"p":"a","d":12.31,"aot":0.77},{"p":"a","d":12.35,"aot":0.44},{"p":"a","d":13.1,"aot":0.33},{"p":"a","d":13.28,"aot":0.85},{"p":"a","d":13.35,"aot":0.64},{"p":"a","d":14.3,"aot":0.76},{"p":"a","d":14.35,"aot":0.35},{"p":"a","d":14.4,"aot":0.55},{"p":"a","d":16.2,"aot":0.4},{"p":"a","d":16.23,"aot":0.62},{"p":"a","d":16.23,"aot":0.97},{"p":"a","d":16.26,"aot":0.85},{"p":"a","d":17.1,"aot":0.1},{"p":"a","d":17.25,"aot":0.64},{"p":"a","d":17.25,"aot":0.55},{"p":"a","d":17.3,"aot":0.4},{"p":"a","d":18.1,"aot":0.08},{"p":"a","d":18.22,"aot":0.82},{"p":"a","d":18.26,"aot":0.74},{"p":"a","d":19.06,"aot":0.1},{"p":"a","d":19.23,"aot":0.99},{"p":"a","d":19.26,"aot":0.87},{"p":"a","d":19.26,"aot":0.7},{"p":"a","d":20.1,"aot":0.1},{"p":"a","d":20.25,"aot":0.85},{"p":"a","d":20.3,"aot":0.75},{"p":"a","d":21.1,"aot":0.12},{"p":"a","d":21.23,"aot":1.14},{"p":"a","d":21.33,"aot":1.04},{"p":"a","d":21.35,"aot":0.9},{"p":"a","d":22.3,"aot":1.3},{"p":"a","d":22.35,"aot":0.87},{"p":"a","d":22.35,"aot":0.33},{"p":"a","d":23.2,"aot":0.1},{"p":"a","d":23.27,"aot":1.52},{"p":"a","d":23.3,"aot":1.3},{"p":"a","d":23.35,"aot":0.84},{"p":"a","d":23.4,"aot":0.45},
{"p":"b","d":10.2,"aot":0.2},{"p":"b","d":10.24,"aot":0.28},{"p":"b","d":11.15,"aot":0.52},{"p":"b","d":11.2,"aot":0.67},{"p":"b","d":11.22,"aot":0.9},{"p":"b","d":13.29,"aot":0.72},{"p":"b","d":13.31,"aot":0.75},{"p":"b","d":16.25,"aot":0.01},{"p":"b","d":16.3,"aot":0.02},{"p":"b","d":17.24,"aot":0.16},{"p":"b","d":18.18,"aot":0.12},{"p":"b","d":18.21,"aot":0.2},{"p":"b","d":19.15,"aot":0.3},{"p":"b","d":19.19,"aot":0.38},{"p":"b","d":19.25,"aot":0.48},{"p":"b","d":20.15,"aot":0.43},{"p":"b","d":20.22,"aot":0.55},{"p":"b","d":20.25,"aot":0.3},{"p":"b","d":21.14,"aot":0.42},{"p":"b","d":21.18,"aot":0.59},{"p":"b","d":21.22,"aot":0.77},{"p":"b","d":21.3,"aot":0.84},{"p":"b","d":22.3,"aot":0.42},{"p":"b","d":23.2,"aot":0.3},{"p":"b","d":23.26,"aot":0.51},
{"p":"c","d":10.07,"aot":0.17},{"p":"c","d":10.24,"aot":0.8},{"p":"c","d":10.26,"aot":0.7},{"p":"c","d":10.3,"aot":0.85},{"p":"c","d":11.13,"aot":0.21},{"p":"c","d":11.34,"aot":0.52},{"p":"c","d":11.38,"aot":0.6},{"p":"c","d":12.1,"aot":0.21},{"p":"c","d":12.28,"aot":0.64},{"p":"c","d":14.28,"aot":0.66},{"p":"c","d":14.32,"aot":0.62},{"p":"c","d":15.08,"aot":0.19},{"p":"c","d":15.34,"aot":1.18},{"p":"c","d":15.38,"aot":1.13},{"p":"c","d":18.14,"aot":0.85},{"p":"c","d":19.29,"aot":0.72},{"p":"c","d":19.33,"aot":0.8},{"p":"c","d":20.09,"aot":0.14},{"p":"c","d":20.22,"aot":0.64},{"p":"c","d":20.26,"aot":0.6},{"p":"c","d":21.28,"aot":0.7},{"p":"c","d":21.32,"aot":0.68},{"p":"c","d":22.13,"aot":0.23},{"p":"c","d":22.25,"aot":0.89},{"p":"c","d":22.3,"aot":0.97},
{"p":"d","d":14.05,"aot":0.2},{"p":"d","d":14.08,"aot":0.25},{"p":"d","d":14.3,"aot":0.78},{"p":"d","d":14.33,"aot":0.72},{"p":"d","d":15.25,"aot":1.2},{"p":"d","d":15.28,"aot":1.35},{"p":"d","d":15.33,"aot":1.5},{"p":"d","d":18.3,"aot":0.74},{"p":"d","d":19.1,"aot":0.02},{"p":"d","d":19.14,"aot":0.02},{"p":"d","d":19.2,"aot":0.03},{"p":"d","d":20.29,"aot":0.5},{"p":"d","d":21.1,"aot":0.14},{"p":"d","d":21.25,"aot":0.62},{"p":"d","d":21.3,"aot":0.65},{"p":"d","d":22.24,"aot":1.3},{"p":"d","d":22.28,"aot":1.53}],
"stats":[
{"p":"a","rank":1,"run":"k","name":"FR_REON","B":"B = -0.475","R":"R = \u00a00.538","C":"C = \u00a00.493"},
{"p":"a","rank":2,"run":"o","name":"FR_REOFF","B":"B = -0.469","R":"R = \u00a00.533","C":"C = \u00a00.489"},
{"p":"a","rank":3,"run":"b","name":"DA_REON_01H RA","B":"B = -0.349","R":"R = \u00a00.456","C":"C = \u00a00.395"},
{"p":"a","rank":4,"run":"r","name":"DA_REON_12H RA","B":"B = -0.380","R":"R = \u00a00.435","C":"C = \u00a00.697"},
{"p":"a","rank":5,"run":"v","name":"DA_REOFF_12H RA","B":"B = -0.370","R":"R = \u00a00.427","C":"C = \u00a00.684"},
{"p":"b","rank":1,"run":"k","name":"FR_REON","B":"B = -0.526","R":"R = \u00a00.665","C":"C = \u00a00.199"},
{"p":"b","rank":2,"run":"o","name":"FR_REOFF","B":"B = -0.523","R":"R = \u00a00.662","C":"C = \u00a00.217"},
{"p":"b","rank":3,"run":"b","name":"DA_REON_01H RA","B":"B = -0.461","R":"R = \u00a00.592","C":"C = \u00a00.490"},
{"p":"b","rank":4,"run":"r","name":"DA_REON_12H RA","B":"B = -0.435","R":"R = \u00a00.539","C":"C = \u00a00.598"},
{"p":"b","rank":5,"run":"v","name":"DA_REOFF_12H RA","B":"B = -0.432","R":"R = \u00a00.538","C":"C = \u00a00.578"},
{"p":"c","rank":1,"run":"k","name":"FR_REON","B":"B = -0.324","R":"R = \u00a00.421","C":"C = \u00a00.154"},
{"p":"c","rank":2,"run":"o","name":"FR_REOFF","B":"B = -0.343","R":"R = \u00a00.434","C":"C = \u00a00.111"},
{"p":"c","rank":3,"run":"b","name":"DA_REON_01H RA","B":"B = -0.288","R":"R = \u00a00.392","C":"C = \u00a00.567"},
{"p":"c","rank":4,"run":"r","name":"DA_REON_12H RA","B":"B = -0.315","R":"R = \u00a00.404","C":"C = \u00a00.337"},
{"p":"c","rank":5,"run":"v","name":"DA_REOFF_12H RA","B":"B = -0.303","R":"R = \u00a00.398","C":"C = \u00a00.317"},
{"p":"d","rank":1,"run":"k","name":"FR_REON","B":"B = -0.447","R":"R = \u00a00.540","C":"C = \u00a00.560"},
{"p":"d","rank":2,"run":"o","name":"FR_REOFF","B":"B = -0.472","R":"R = \u00a00.570","C":"C = \u00a00.491"},
{"p":"d","rank":3,"run":"b","name":"DA_REON_01H RA","B":"B = -0.222","R":"R = \u00a00.348","C":"C = \u00a00.672"},
{"p":"d","rank":4,"run":"r","name":"DA_REON_12H RA","B":"B = -0.269","R":"R = \u00a00.416","C":"C = \u00a00.520"},
{"p":"d","rank":5,"run":"v","name":"DA_REOFF_12H RA","B":"B = -0.282","R":"R = \u00a00.408","C":"C = \u00a00.542"}],
"mk":[{"rank":1,"label":"AERONET"},{"rank":2,"label":"Himawari-8"}]
},
"concat":[
{"title":{"text":"(a) Lumbini","anchor":"start","frame":"group","fontSize":20,"fontWeight":"normal","color":"black","offset":-3},
"width":549,"height":274,
"layer":[
{"encoding":{
"x":{"field":"d","type":"quantitative","scale":{"domain":[10,24],"nice":false,"zero":false},"axis":{"values":[10,11,12,13,14,15,16,17,18,19,20,21,22,23,24],"labelExpr":"datum.value == 10 ? 'Mar-10' : datum.value == 24 ? 'Mar-24' : datum.label","title":"Time (UTC)","titleFontSize":22,"titleFontWeight":"normal","titleColor":"black","titlePadding":6,"labelFontSize":13.5,"labelColor":"black","labelPadding":10,"tickSize":12,"tickWidth":1.5,"tickColor":"black","domain":false,"grid":false,"labelFlush":false,"labelOverlap":false}},
"y":{"field":"aot","type":"quantitative","scale":{"domain":[0,3.2],"nice":false},"axis":{"values":[0,0.1,0.2,0.3,0.4,0.5,0.6,0.7,0.8,0.9,1,1.1,1.2,1.3,1.4,1.5,1.6,1.7,1.8,1.9,2,2.1,2.2,2.3,2.4,2.5,2.6,2.7,2.8,2.9,3,3.1,3.2],"labelExpr":"round(datum.value*10) % 5 == 0 ? format(datum.value, '.1f') : ''","tickSize":{"condition":{"test":"round(datum.value*10) % 5 == 0","value":12},"value":6},"tickWidth":1.5,"tickColor":"black","labelFontSize":13.5,"labelColor":"black","labelPadding":9,"title":"AOT","titleFontSize":22,"titleFontWeight":"normal","titleColor":"black","titlePadding":8,"domain":false,"grid":false,"labelOverlap":false,"labelFlush":false}}},
"layer":[
{"data":{"name":"la"},"transform":[{"fold":["k","o","b","r","v"],"as":["run","aot"]}],"mark":{"type":"line","strokeWidth":2.8},"encoding":{"color":{"field":"run","type":"nominal","scale":{"domain":["k","o","b","r","v"],"range":["#000000","#f2a62b","#1414d4","#e41a1a","#a035e6"]},"legend":null}}},
{"data":{"name":"aer"},"transform":[{"filter":"datum.p == 'a'"}],"mark":{"type":"circle","size":42,"color":"#000000","opacity":1}},
{"data":{"name":"him"},"transform":[{"filter":"datum.p == 'a'"}],"mark":{"type":"point","shape":"M0,-1L0,1M-0.866,-0.5L0.866,0.5M-0.866,0.5L0.866,-0.5","size":50,"filled":false,"color":"#3fe03f","strokeWidth":1.5,"opacity":1}}
]},
{"data":{"name":"aer"},"mark":{"type":"point","opacity":0},"encoding":{"x":{"field":"d","type":"quantitative","scale":{"domain":[10,24],"nice":false,"zero":false},"axis":{"values":[10,11,12,13,14,15,16,17,18,19,20,21,22,23,24],"labelExpr":"datum.value == 10 ? 'Mar-10' : datum.value == 24 ? 'Mar-24' : datum.label","title":"Time (UTC)","titleFontSize":22,"titleFontWeight":"normal","titleColor":"black","titlePadding":6,"labelFontSize":13.5,"labelColor":"black","labelPadding":10,"tickSize":12,"tickWidth":1.5,"tickColor":"black","domain":false,"grid":false,"labelFlush":false,"labelOverlap":false}},"y":{"field":"aot","type":"quantitative","scale":{"domain":[0,3.2],"nice":false},"axis":{"orient":"right","values":[0,0.1,0.2,0.3,0.4,0.5,0.6,0.7,0.8,0.9,1,1.1,1.2,1.3,1.4,1.5,1.6,1.7,1.8,1.9,2,2.1,2.2,2.3,2.4,2.5,2.6,2.7,2.8,2.9,3,3.1,3.2],"labels":false,"tickSize":{"condition":{"test":"round(datum.value*10) % 5 == 0","value":12},"value":6},"tickWidth":1.5,"tickColor":"black","title":null,"domain":false,"grid":false}}}},
{"data":{"name":"stats"},"transform":[{"filter":"datum.p == 'a' && datum.rank <= 2"}],"mark":{"type":"text","align":"center","baseline":"middle","fontSize":16.5},"encoding":{"x":{"datum":12.85,"type":"quantitative","scale":{"domain":[10,24],"nice":false,"zero":false},"axis":{"values":[10,11,12,13,14,15,16,17,18,19,20,21,22,23,24],"labelExpr":"datum.value == 10 ? 'Mar-10' : datum.value == 24 ? 'Mar-24' : datum.label","title":"Time (UTC)","titleFontSize":22,"titleFontWeight":"normal","titleColor":"black","titlePadding":6,"labelFontSize":13.5,"labelColor":"black","labelPadding":10,"tickSize":12,"tickWidth":1.5,"tickColor":"black","domain":false,"grid":false,"labelFlush":false,"labelOverlap":false}},"y":{"field":"rank","type":"quantitative","scale":{"domain":[0,15.9],"reverse":true,"nice":false,"zero":false},"axis":null},"text":{"field":"name"},"color":{"field":"run","type":"nominal","scale":{"domain":["k","o","b","r","v"],"range":["#000000","#f2a62b","#1414d4","#e41a1a","#a035e6"]},"legend":null}}},
{"data":{"name":"stats"},"transform":[{"filter":"datum.p == 'a' && datum.rank >= 3"}],"mark":{"type":"text","align":"center","baseline":"middle","fontSize":16.5},"encoding":{"x":{"datum":12.54,"type":"quantitative","scale":{"domain":[10,24],"nice":false,"zero":false},"axis":{"values":[10,11,12,13,14,15,16,17,18,19,20,21,22,23,24],"labelExpr":"datum.value == 10 ? 'Mar-10' : datum.value == 24 ? 'Mar-24' : datum.label","title":"Time (UTC)","titleFontSize":22,"titleFontWeight":"normal","titleColor":"black","titlePadding":6,"labelFontSize":13.5,"labelColor":"black","labelPadding":10,"tickSize":12,"tickWidth":1.5,"tickColor":"black","domain":false,"grid":false,"labelFlush":false,"labelOverlap":false}},"y":{"field":"rank","type":"quantitative","scale":{"domain":[0,15.9],"reverse":true,"nice":false,"zero":false},"axis":null},"text":{"field":"name"},"color":{"field":"run","type":"nominal","scale":{"domain":["k","o","b","r","v"],"range":["#000000","#f2a62b","#1414d4","#e41a1a","#a035e6"]},"legend":null}}},
{"data":{"name":"stats"},"transform":[{"filter":"datum.p == 'a'"}],"mark":{"type":"text","align":"left","baseline":"middle","fontSize":16.5},"encoding":{"x":{"datum":14.89,"type":"quantitative","scale":{"domain":[10,24],"nice":false,"zero":false},"axis":{"values":[10,11,12,13,14,15,16,17,18,19,20,21,22,23,24],"labelExpr":"datum.value == 10 ? 'Mar-10' : datum.value == 24 ? 'Mar-24' : datum.label","title":"Time (UTC)","titleFontSize":22,"titleFontWeight":"normal","titleColor":"black","titlePadding":6,"labelFontSize":13.5,"labelColor":"black","labelPadding":10,"tickSize":12,"tickWidth":1.5,"tickColor":"black","domain":false,"grid":false,"labelFlush":false,"labelOverlap":false}},"y":{"field":"rank","type":"quantitative","scale":{"domain":[0,15.9],"reverse":true,"nice":false,"zero":false},"axis":null},"text":{"field":"B"},"color":{"field":"run","type":"nominal","scale":{"domain":["k","o","b","r","v"],"range":["#000000","#f2a62b","#1414d4","#e41a1a","#a035e6"]},"legend":null}}},
{"data":{"name":"stats"},"transform":[{"filter":"datum.p == 'a'"}],"mark":{"type":"text","align":"left","baseline":"middle","fontSize":16.5},"encoding":{"x":{"datum":17.28,"type":"quantitative","scale":{"domain":[10,24],"nice":false,"zero":false},"axis":{"values":[10,11,12,13,14,15,16,17,18,19,20,21,22,23,24],"labelExpr":"datum.value == 10 ? 'Mar-10' : datum.value == 24 ? 'Mar-24' : datum.label","title":"Time (UTC)","titleFontSize":22,"titleFontWeight":"normal","titleColor":"black","titlePadding":6,"labelFontSize":13.5,"labelColor":"black","labelPadding":10,"tickSize":12,"tickWidth":1.5,"tickColor":"black","domain":false,"grid":false,"labelFlush":false,"labelOverlap":false}},"y":{"field":"rank","type":"quantitative","scale":{"domain":[0,15.9],"reverse":true,"nice":false,"zero":false},"axis":null},"text":{"field":"R"},"color":{"field":"run","type":"nominal","scale":{"domain":["k","o","b","r","v"],"range":["#000000","#f2a62b","#1414d4","#e41a1a","#a035e6"]},"legend":null}}},
{"data":{"name":"stats"},"transform":[{"filter":"datum.p == 'a'"}],"mark":{"type":"text","align":"left","baseline":"middle","fontSize":16.5},"encoding":{"x":{"datum":19.66,"type":"quantitative","scale":{"domain":[10,24],"nice":false,"zero":false},"axis":{"values":[10,11,12,13,14,15,16,17,18,19,20,21,22,23,24],"labelExpr":"datum.value == 10 ? 'Mar-10' : datum.value == 24 ? 'Mar-24' : datum.label","title":"Time (UTC)","titleFontSize":22,"titleFontWeight":"normal","titleColor":"black","titlePadding":6,"labelFontSize":13.5,"labelColor":"black","labelPadding":10,"tickSize":12,"tickWidth":1.5,"tickColor":"black","domain":false,"grid":false,"labelFlush":false,"labelOverlap":false}},"y":{"field":"rank","type":"quantitative","scale":{"domain":[0,15.9],"reverse":true,"nice":false,"zero":false},"axis":null},"text":{"field":"C"},"color":{"field":"run","type":"nominal","scale":{"domain":["k","o","b","r","v"],"range":["#000000","#f2a62b","#1414d4","#e41a1a","#a035e6"]},"legend":null}}},
{"data":{"name":"stats"},"transform":[{"filter":"datum.p == 'a'"}],"mark":{"type":"rule","strokeWidth":4},"encoding":{"x":{"datum":10.554,"type":"quantitative","scale":{"domain":[10,24],"nice":false,"zero":false},"axis":{"values":[10,11,12,13,14,15,16,17,18,19,20,21,22,23,24],"labelExpr":"datum.value == 10 ? 'Mar-10' : datum.value == 24 ? 'Mar-24' : datum.label","title":"Time (UTC)","titleFontSize":22,"titleFontWeight":"normal","titleColor":"black","titlePadding":6,"labelFontSize":13.5,"labelColor":"black","labelPadding":10,"tickSize":12,"tickWidth":1.5,"tickColor":"black","domain":false,"grid":false,"labelFlush":false,"labelOverlap":false}},"x2":{"datum":11.293},"y":{"field":"rank","type":"quantitative","scale":{"domain":[-6.53,13.79],"reverse":true,"nice":false,"zero":false},"axis":null},"color":{"field":"run","type":"nominal","scale":{"domain":["k","o","b","r","v"],"range":["#000000","#f2a62b","#1414d4","#e41a1a","#a035e6"]},"legend":null}}},
{"data":{"name":"stats"},"transform":[{"filter":"datum.p == 'a'"}],"mark":{"type":"text","align":"left","baseline":"middle","fontSize":13.5,"color":"black"},"encoding":{"x":{"datum":11.676,"type":"quantitative","scale":{"domain":[10,24],"nice":false,"zero":false},"axis":{"values":[10,11,12,13,14,15,16,17,18,19,20,21,22,23,24],"labelExpr":"datum.value == 10 ? 'Mar-10' : datum.value == 24 ? 'Mar-24' : datum.label","title":"Time (UTC)","titleFontSize":22,"titleFontWeight":"normal","titleColor":"black","titlePadding":6,"labelFontSize":13.5,"labelColor":"black","labelPadding":10,"tickSize":12,"tickWidth":1.5,"tickColor":"black","domain":false,"grid":false,"labelFlush":false,"labelOverlap":false}},"y":{"field":"rank","type":"quantitative","scale":{"domain":[-6.53,13.79],"reverse":true,"nice":false,"zero":false},"axis":null},"text":{"field":"name"}}},
{"data":{"name":"mk"},"transform":[{"filter":"datum.rank == 1"}],"mark":{"type":"circle","size":100,"color":"#000000","opacity":1},"encoding":{"x":{"datum":18.036,"type":"quantitative","scale":{"domain":[10,24],"nice":false,"zero":false},"axis":{"values":[10,11,12,13,14,15,16,17,18,19,20,21,22,23,24],"labelExpr":"datum.value == 10 ? 'Mar-10' : datum.value == 24 ? 'Mar-24' : datum.label","title":"Time (UTC)","titleFontSize":22,"titleFontWeight":"normal","titleColor":"black","titlePadding":6,"labelFontSize":13.5,"labelColor":"black","labelPadding":10,"tickSize":12,"tickWidth":1.5,"tickColor":"black","domain":false,"grid":false,"labelFlush":false,"labelOverlap":false}},"y":{"field":"rank","type":"quantitative","scale":{"domain":[-2.957,7.31],"reverse":true,"nice":false,"zero":false},"axis":null}}},
{"data":{"name":"mk"},"transform":[{"filter":"datum.rank == 2"}],"mark":{"type":"point","shape":"M0,-1L0,1M-0.866,-0.5L0.866,0.5M-0.866,0.5L0.866,-0.5","size":150,"filled":false,"color":"#3fe03f","strokeWidth":3,"opacity":1},"encoding":{"x":{"datum":18.036,"type":"quantitative","scale":{"domain":[10,24],"nice":false,"zero":false},"axis":{"values":[10,11,12,13,14,15,16,17,18,19,20,21,22,23,24],"labelExpr":"datum.value == 10 ? 'Mar-10' : datum.value == 24 ? 'Mar-24' : datum.label","title":"Time (UTC)","titleFontSize":22,"titleFontWeight":"normal","titleColor":"black","titlePadding":6,"labelFontSize":13.5,"labelColor":"black","labelPadding":10,"tickSize":12,"tickWidth":1.5,"tickColor":"black","domain":false,"grid":false,"labelFlush":false,"labelOverlap":false}},"y":{"field":"rank","type":"quantitative","scale":{"domain":[-2.957,7.31],"reverse":true,"nice":false,"zero":false},"axis":null}}},
{"data":{"name":"mk"},"mark":{"type":"text","align":"left","baseline":"middle","fontSize":14.5,"color":"black"},"encoding":{"x":{"datum":18.48,"type":"quantitative","scale":{"domain":[10,24],"nice":false,"zero":false},"axis":{"values":[10,11,12,13,14,15,16,17,18,19,20,21,22,23,24],"labelExpr":"datum.value == 10 ? 'Mar-10' : datum.value == 24 ? 'Mar-24' : datum.label","title":"Time (UTC)","titleFontSize":22,"titleFontWeight":"normal","titleColor":"black","titlePadding":6,"labelFontSize":13.5,"labelColor":"black","labelPadding":10,"tickSize":12,"tickWidth":1.5,"tickColor":"black","domain":false,"grid":false,"labelFlush":false,"labelOverlap":false}},"y":{"field":"rank","type":"quantitative","scale":{"domain":[-2.957,7.31],"reverse":true,"nice":false,"zero":false},"axis":null},"text":{"field":"label"}}}
],
"resolve":{"scale":{"y":"independent"},"axis":{"y":"independent"}}},

{"title":{"text":"(b) Pokhara","anchor":"start","frame":"group","fontSize":20,"fontWeight":"normal","color":"black","offset":-3},
"width":549,"height":274,
"layer":[
{"encoding":{
"x":{"field":"d","type":"quantitative","scale":{"domain":[10,24],"nice":false,"zero":false},"axis":{"values":[10,11,12,13,14,15,16,17,18,19,20,21,22,23,24],"labelExpr":"datum.value == 10 ? 'Mar-10' : datum.value == 24 ? 'Mar-24' : datum.label","title":"Time (UTC)","titleFontSize":22,"titleFontWeight":"normal","titleColor":"black","titlePadding":6,"labelFontSize":13.5,"labelColor":"black","labelPadding":10,"tickSize":12,"tickWidth":1.5,"tickColor":"black","domain":false,"grid":false,"labelFlush":false,"labelOverlap":false}},
"y":{"field":"aot","type":"quantitative","scale":{"domain":[0,3.2],"nice":false},"axis":{"values":[0,0.1,0.2,0.3,0.4,0.5,0.6,0.7,0.8,0.9,1,1.1,1.2,1.3,1.4,1.5,1.6,1.7,1.8,1.9,2,2.1,2.2,2.3,2.4,2.5,2.6,2.7,2.8,2.9,3,3.1,3.2],"labelExpr":"round(datum.value*10) % 5 == 0 ? format(datum.value, '.1f') : ''","tickSize":{"condition":{"test":"round(datum.value*10) % 5 == 0","value":12},"value":6},"tickWidth":1.5,"tickColor":"black","labelFontSize":13.5,"labelColor":"black","labelPadding":9,"title":"AOT","titleFontSize":22,"titleFontWeight":"normal","titleColor":"black","titlePadding":8,"domain":false,"grid":false,"labelOverlap":false,"labelFlush":false}}},
"layer":[
{"data":{"name":"lb"},"transform":[{"fold":["k","o","b","r","v"],"as":["run","aot"]}],"mark":{"type":"line","strokeWidth":2.8},"encoding":{"color":{"field":"run","type":"nominal","scale":{"domain":["k","o","b","r","v"],"range":["#000000","#f2a62b","#1414d4","#e41a1a","#a035e6"]},"legend":null}}},
{"data":{"name":"aer"},"transform":[{"filter":"datum.p == 'b'"}],"mark":{"type":"circle","size":42,"color":"#000000","opacity":1}},
{"data":{"name":"him"},"transform":[{"filter":"datum.p == 'b'"}],"mark":{"type":"point","shape":"M0,-1L0,1M-0.866,-0.5L0.866,0.5M-0.866,0.5L0.866,-0.5","size":50,"filled":false,"color":"#3fe03f","strokeWidth":1.5,"opacity":1}}
]},
{"data":{"name":"aer"},"mark":{"type":"point","opacity":0},"encoding":{"x":{"field":"d","type":"quantitative","scale":{"domain":[10,24],"nice":false,"zero":false},"axis":{"values":[10,11,12,13,14,15,16,17,18,19,20,21,22,23,24],"labelExpr":"datum.value == 10 ? 'Mar-10' : datum.value == 24 ? 'Mar-24' : datum.label","title":"Time (UTC)","titleFontSize":22,"titleFontWeight":"normal","titleColor":"black","titlePadding":6,"labelFontSize":13.5,"labelColor":"black","labelPadding":10,"tickSize":12,"tickWidth":1.5,"tickColor":"black","domain":false,"grid":false,"labelFlush":false,"labelOverlap":false}},"y":{"field":"aot","type":"quantitative","scale":{"domain":[0,3.2],"nice":false},"axis":{"orient":"right","values":[0,0.1,0.2,0.3,0.4,0.5,0.6,0.7,0.8,0.9,1,1.1,1.2,1.3,1.4,1.5,1.6,1.7,1.8,1.9,2,2.1,2.2,2.3,2.4,2.5,2.6,2.7,2.8,2.9,3,3.1,3.2],"labels":false,"tickSize":{"condition":{"test":"round(datum.value*10) % 5 == 0","value":12},"value":6},"tickWidth":1.5,"tickColor":"black","title":null,"domain":false,"grid":false}}}},
{"data":{"name":"stats"},"transform":[{"filter":"datum.p == 'b' && datum.rank <= 2"}],"mark":{"type":"text","align":"center","baseline":"middle","fontSize":16.5},"encoding":{"x":{"datum":12.85,"type":"quantitative","scale":{"domain":[10,24],"nice":false,"zero":false},"axis":{"values":[10,11,12,13,14,15,16,17,18,19,20,21,22,23,24],"labelExpr":"datum.value == 10 ? 'Mar-10' : datum.value == 24 ? 'Mar-24' : datum.label","title":"Time (UTC)","titleFontSize":22,"titleFontWeight":"normal","titleColor":"black","titlePadding":6,"labelFontSize":13.5,"labelColor":"black","labelPadding":10,"tickSize":12,"tickWidth":1.5,"tickColor":"black","domain":false,"grid":false,"labelFlush":false,"labelOverlap":false}},"y":{"field":"rank","type":"quantitative","scale":{"domain":[0,15.9],"reverse":true,"nice":false,"zero":false},"axis":null},"text":{"field":"name"},"color":{"field":"run","type":"nominal","scale":{"domain":["k","o","b","r","v"],"range":["#000000","#f2a62b","#1414d4","#e41a1a","#a035e6"]},"legend":null}}},
{"data":{"name":"stats"},"transform":[{"filter":"datum.p == 'b' && datum.rank >= 3"}],"mark":{"type":"text","align":"center","baseline":"middle","fontSize":16.5},"encoding":{"x":{"datum":12.54,"type":"quantitative","scale":{"domain":[10,24],"nice":false,"zero":false},"axis":{"values":[10,11,12,13,14,15,16,17,18,19,20,21,22,23,24],"labelExpr":"datum.value == 10 ? 'Mar-10' : datum.value == 24 ? 'Mar-24' : datum.label","title":"Time (UTC)","titleFontSize":22,"titleFontWeight":"normal","titleColor":"black","titlePadding":6,"labelFontSize":13.5,"labelColor":"black","labelPadding":10,"tickSize":12,"tickWidth":1.5,"tickColor":"black","domain":false,"grid":false,"labelFlush":false,"labelOverlap":false}},"y":{"field":"rank","type":"quantitative","scale":{"domain":[0,15.9],"reverse":true,"nice":false,"zero":false},"axis":null},"text":{"field":"name"},"color":{"field":"run","type":"nominal","scale":{"domain":["k","o","b","r","v"],"range":["#000000","#f2a62b","#1414d4","#e41a1a","#a035e6"]},"legend":null}}},
{"data":{"name":"stats"},"transform":[{"filter":"datum.p == 'b'"}],"mark":{"type":"text","align":"left","baseline":"middle","fontSize":16.5},"encoding":{"x":{"datum":14.89,"type":"quantitative","scale":{"domain":[10,24],"nice":false,"zero":false},"axis":{"values":[10,11,12,13,14,15,16,17,18,19,20,21,22,23,24],"labelExpr":"datum.value == 10 ? 'Mar-10' : datum.value == 24 ? 'Mar-24' : datum.label","title":"Time (UTC)","titleFontSize":22,"titleFontWeight":"normal","titleColor":"black","titlePadding":6,"labelFontSize":13.5,"labelColor":"black","labelPadding":10,"tickSize":12,"tickWidth":1.5,"tickColor":"black","domain":false,"grid":false,"labelFlush":false,"labelOverlap":false}},"y":{"field":"rank","type":"quantitative","scale":{"domain":[0,15.9],"reverse":true,"nice":false,"zero":false},"axis":null},"text":{"field":"B"},"color":{"field":"run","type":"nominal","scale":{"domain":["k","o","b","r","v"],"range":["#000000","#f2a62b","#1414d4","#e41a1a","#a035e6"]},"legend":null}}},
{"data":{"name":"stats"},"transform":[{"filter":"datum.p == 'b'"}],"mark":{"type":"text","align":"left","baseline":"middle","fontSize":16.5},"encoding":{"x":{"datum":17.28,"type":"quantitative","scale":{"domain":[10,24],"nice":false,"zero":false},"axis":{"values":[10,11,12,13,14,15,16,17,18,19,20,21,22,23,24],"labelExpr":"datum.value == 10 ? 'Mar-10' : datum.value == 24 ? 'Mar-24' : datum.label","title":"Time (UTC)","titleFontSize":22,"titleFontWeight":"normal","titleColor":"black","titlePadding":6,"labelFontSize":13.5,"labelColor":"black","labelPadding":10,"tickSize":12,"tickWidth":1.5,"tickColor":"black","domain":false,"grid":false,"labelFlush":false,"labelOverlap":false}},"y":{"field":"rank","type":"quantitative","scale":{"domain":[0,15.9],"reverse":true,"nice":false,"zero":false},"axis":null},"text":{"field":"R"},"color":{"field":"run","type":"nominal","scale":{"domain":["k","o","b","r","v"],"range":["#000000","#f2a62b","#1414d4","#e41a1a","#a035e6"]},"legend":null}}},
{"data":{"name":"stats"},"transform":[{"filter":"datum.p == 'b'"}],"mark":{"type":"text","align":"left","baseline":"middle","fontSize":16.5},"encoding":{"x":{"datum":19.66,"type":"quantitative","scale":{"domain":[10,24],"nice":false,"zero":false},"axis":{"values":[10,11,12,13,14,15,16,17,18,19,20,21,22,23,24],"labelExpr":"datum.value == 10 ? 'Mar-10' : datum.value == 24 ? 'Mar-24' : datum.label","title":"Time (UTC)","titleFontSize":22,"titleFontWeight":"normal","titleColor":"black","titlePadding":6,"labelFontSize":13.5,"labelColor":"black","labelPadding":10,"tickSize":12,"tickWidth":1.5,"tickColor":"black","domain":false,"grid":false,"labelFlush":false,"labelOverlap":false}},"y":{"field":"rank","type":"quantitative","scale":{"domain":[0,15.9],"reverse":true,"nice":false,"zero":false},"axis":null},"text":{"field":"C"},"color":{"field":"run","type":"nominal","scale":{"domain":["k","o","b","r","v"],"range":["#000000","#f2a62b","#1414d4","#e41a1a","#a035e6"]},"legend":null}}}
],
"resolve":{"scale":{"y":"independent"},"axis":{"y":"independent"}}},

{"title":{"text":"(c) Bhola","anchor":"start","frame":"group","fontSize":20,"fontWeight":"normal","color":"black","offset":-3},
"width":549,"height":274,
"layer":[
{"encoding":{
"x":{"field":"d","type":"quantitative","scale":{"domain":[10,24],"nice":false,"zero":false},"axis":{"values":[10,11,12,13,14,15,16,17,18,19,20,21,22,23,24],"labelExpr":"datum.value == 10 ? 'Mar-10' : datum.value == 24 ? 'Mar-24' : datum.label","title":"Time (UTC)","titleFontSize":22,"titleFontWeight":"normal","titleColor":"black","titlePadding":6,"labelFontSize":13.5,"labelColor":"black","labelPadding":10,"tickSize":12,"tickWidth":1.5,"tickColor":"black","domain":false,"grid":false,"labelFlush":false,"labelOverlap":false}},
"y":{"field":"aot","type":"quantitative","scale":{"domain":[0,3.2],"nice":false},"axis":{"values":[0,0.1,0.2,0.3,0.4,0.5,0.6,0.7,0.8,0.9,1,1.1,1.2,1.3,1.4,1.5,1.6,1.7,1.8,1.9,2,2.1,2.2,2.3,2.4,2.5,2.6,2.7,2.8,2.9,3,3.1,3.2],"labelExpr":"round(datum.value*10) % 5 == 0 ? format(datum.value, '.1f') : ''","tickSize":{"condition":{"test":"round(datum.value*10) % 5 == 0","value":12},"value":6},"tickWidth":1.5,"tickColor":"black","labelFontSize":13.5,"labelColor":"black","labelPadding":9,"title":"AOT","titleFontSize":22,"titleFontWeight":"normal","titleColor":"black","titlePadding":8,"domain":false,"grid":false,"labelOverlap":false,"labelFlush":false}}},
"layer":[
{"data":{"name":"lc"},"transform":[{"fold":["k","o","b","r","v"],"as":["run","aot"]}],"mark":{"type":"line","strokeWidth":2.8},"encoding":{"color":{"field":"run","type":"nominal","scale":{"domain":["k","o","b","r","v"],"range":["#000000","#f2a62b","#1414d4","#e41a1a","#a035e6"]},"legend":null}}},
{"data":{"name":"aer"},"transform":[{"filter":"datum.p == 'c'"}],"mark":{"type":"circle","size":42,"color":"#000000","opacity":1}},
{"data":{"name":"him"},"transform":[{"filter":"datum.p == 'c'"}],"mark":{"type":"point","shape":"M0,-1L0,1M-0.866,-0.5L0.866,0.5M-0.866,0.5L0.866,-0.5","size":50,"filled":false,"color":"#3fe03f","strokeWidth":1.5,"opacity":1}}
]},
{"data":{"name":"aer"},"mark":{"type":"point","opacity":0},"encoding":{"x":{"field":"d","type":"quantitative","scale":{"domain":[10,24],"nice":false,"zero":false},"axis":{"values":[10,11,12,13,14,15,16,17,18,19,20,21,22,23,24],"labelExpr":"datum.value == 10 ? 'Mar-10' : datum.value == 24 ? 'Mar-24' : datum.label","title":"Time (UTC)","titleFontSize":22,"titleFontWeight":"normal","titleColor":"black","titlePadding":6,"labelFontSize":13.5,"labelColor":"black","labelPadding":10,"tickSize":12,"tickWidth":1.5,"tickColor":"black","domain":false,"grid":false,"labelFlush":false,"labelOverlap":false}},"y":{"field":"aot","type":"quantitative","scale":{"domain":[0,3.2],"nice":false},"axis":{"orient":"right","values":[0,0.1,0.2,0.3,0.4,0.5,0.6,0.7,0.8,0.9,1,1.1,1.2,1.3,1.4,1.5,1.6,1.7,1.8,1.9,2,2.1,2.2,2.3,2.4,2.5,2.6,2.7,2.8,2.9,3,3.1,3.2],"labels":false,"tickSize":{"condition":{"test":"round(datum.value*10) % 5 == 0","value":12},"value":6},"tickWidth":1.5,"tickColor":"black","title":null,"domain":false,"grid":false}}}},
{"data":{"name":"stats"},"transform":[{"filter":"datum.p == 'c' && datum.rank <= 2"}],"mark":{"type":"text","align":"center","baseline":"middle","fontSize":16.5},"encoding":{"x":{"datum":12.85,"type":"quantitative","scale":{"domain":[10,24],"nice":false,"zero":false},"axis":{"values":[10,11,12,13,14,15,16,17,18,19,20,21,22,23,24],"labelExpr":"datum.value == 10 ? 'Mar-10' : datum.value == 24 ? 'Mar-24' : datum.label","title":"Time (UTC)","titleFontSize":22,"titleFontWeight":"normal","titleColor":"black","titlePadding":6,"labelFontSize":13.5,"labelColor":"black","labelPadding":10,"tickSize":12,"tickWidth":1.5,"tickColor":"black","domain":false,"grid":false,"labelFlush":false,"labelOverlap":false}},"y":{"field":"rank","type":"quantitative","scale":{"domain":[0,15.9],"reverse":true,"nice":false,"zero":false},"axis":null},"text":{"field":"name"},"color":{"field":"run","type":"nominal","scale":{"domain":["k","o","b","r","v"],"range":["#000000","#f2a62b","#1414d4","#e41a1a","#a035e6"]},"legend":null}}},
{"data":{"name":"stats"},"transform":[{"filter":"datum.p == 'c' && datum.rank >= 3"}],"mark":{"type":"text","align":"center","baseline":"middle","fontSize":16.5},"encoding":{"x":{"datum":12.54,"type":"quantitative","scale":{"domain":[10,24],"nice":false,"zero":false},"axis":{"values":[10,11,12,13,14,15,16,17,18,19,20,21,22,23,24],"labelExpr":"datum.value == 10 ? 'Mar-10' : datum.value == 24 ? 'Mar-24' : datum.label","title":"Time (UTC)","titleFontSize":22,"titleFontWeight":"normal","titleColor":"black","titlePadding":6,"labelFontSize":13.5,"labelColor":"black","labelPadding":10,"tickSize":12,"tickWidth":1.5,"tickColor":"black","domain":false,"grid":false,"labelFlush":false,"labelOverlap":false}},"y":{"field":"rank","type":"quantitative","scale":{"domain":[0,15.9],"reverse":true,"nice":false,"zero":false},"axis":null},"text":{"field":"name"},"color":{"field":"run","type":"nominal","scale":{"domain":["k","o","b","r","v"],"range":["#000000","#f2a62b","#1414d4","#e41a1a","#a035e6"]},"legend":null}}},
{"data":{"name":"stats"},"transform":[{"filter":"datum.p == 'c'"}],"mark":{"type":"text","align":"left","baseline":"middle","fontSize":16.5},"encoding":{"x":{"datum":14.89,"type":"quantitative","scale":{"domain":[10,24],"nice":false,"zero":false},"axis":{"values":[10,11,12,13,14,15,16,17,18,19,20,21,22,23,24],"labelExpr":"datum.value == 10 ? 'Mar-10' : datum.value == 24 ? 'Mar-24' : datum.label","title":"Time (UTC)","titleFontSize":22,"titleFontWeight":"normal","titleColor":"black","titlePadding":6,"labelFontSize":13.5,"labelColor":"black","labelPadding":10,"tickSize":12,"tickWidth":1.5,"tickColor":"black","domain":false,"grid":false,"labelFlush":false,"labelOverlap":false}},"y":{"field":"rank","type":"quantitative","scale":{"domain":[0,15.9],"reverse":true,"nice":false,"zero":false},"axis":null},"text":{"field":"B"},"color":{"field":"run","type":"nominal","scale":{"domain":["k","o","b","r","v"],"range":["#000000","#f2a62b","#1414d4","#e41a1a","#a035e6"]},"legend":null}}},
{"data":{"name":"stats"},"transform":[{"filter":"datum.p == 'c'"}],"mark":{"type":"text","align":"left","baseline":"middle","fontSize":16.5},"encoding":{"x":{"datum":17.28,"type":"quantitative","scale":{"domain":[10,24],"nice":false,"zero":false},"axis":{"values":[10,11,12,13,14,15,16,17,18,19,20,21,22,23,24],"labelExpr":"datum.value == 10 ? 'Mar-10' : datum.value == 24 ? 'Mar-24' : datum.label","title":"Time (UTC)","titleFontSize":22,"titleFontWeight":"normal","titleColor":"black","titlePadding":6,"labelFontSize":13.5,"labelColor":"black","labelPadding":10,"tickSize":12,"tickWidth":1.5,"tickColor":"black","domain":false,"grid":false,"labelFlush":false,"labelOverlap":false}},"y":{"field":"rank","type":"quantitative","scale":{"domain":[0,15.9],"reverse":true,"nice":false,"zero":false},"axis":null},"text":{"field":"R"},"color":{"field":"run","type":"nominal","scale":{"domain":["k","o","b","r","v"],"range":["#000000","#f2a62b","#1414d4","#e41a1a","#a035e6"]},"legend":null}}},
{"data":{"name":"stats"},"transform":[{"filter":"datum.p == 'c'"}],"mark":{"type":"text","align":"left","baseline":"middle","fontSize":16.5},"encoding":{"x":{"datum":19.66,"type":"quantitative","scale":{"domain":[10,24],"nice":false,"zero":false},"axis":{"values":[10,11,12,13,14,15,16,17,18,19,20,21,22,23,24],"labelExpr":"datum.value == 10 ? 'Mar-10' : datum.value == 24 ? 'Mar-24' : datum.label","title":"Time (UTC)","titleFontSize":22,"titleFontWeight":"normal","titleColor":"black","titlePadding":6,"labelFontSize":13.5,"labelColor":"black","labelPadding":10,"tickSize":12,"tickWidth":1.5,"tickColor":"black","domain":false,"grid":false,"labelFlush":false,"labelOverlap":false}},"y":{"field":"rank","type":"quantitative","scale":{"domain":[0,15.9],"reverse":true,"nice":false,"zero":false},"axis":null},"text":{"field":"C"},"color":{"field":"run","type":"nominal","scale":{"domain":["k","o","b","r","v"],"range":["#000000","#f2a62b","#1414d4","#e41a1a","#a035e6"]},"legend":null}}}
],
"resolve":{"scale":{"y":"independent"},"axis":{"y":"independent"}}},

{"title":{"text":"(d) Dibrugarh_Univ","anchor":"start","frame":"group","fontSize":20,"fontWeight":"normal","color":"black","offset":-3},
"width":549,"height":274,
"layer":[
{"encoding":{
"x":{"field":"d","type":"quantitative","scale":{"domain":[10,24],"nice":false,"zero":false},"axis":{"values":[10,11,12,13,14,15,16,17,18,19,20,21,22,23,24],"labelExpr":"datum.value == 10 ? 'Mar-10' : datum.value == 24 ? 'Mar-24' : datum.label","title":"Time (UTC)","titleFontSize":22,"titleFontWeight":"normal","titleColor":"black","titlePadding":6,"labelFontSize":13.5,"labelColor":"black","labelPadding":10,"tickSize":12,"tickWidth":1.5,"tickColor":"black","domain":false,"grid":false,"labelFlush":false,"labelOverlap":false}},
"y":{"field":"aot","type":"quantitative","scale":{"domain":[0,3.2],"nice":false},"axis":{"values":[0,0.1,0.2,0.3,0.4,0.5,0.6,0.7,0.8,0.9,1,1.1,1.2,1.3,1.4,1.5,1.6,1.7,1.8,1.9,2,2.1,2.2,2.3,2.4,2.5,2.6,2.7,2.8,2.9,3,3.1,3.2],"labelExpr":"round(datum.value*10) % 5 == 0 ? format(datum.value, '.1f') : ''","tickSize":{"condition":{"test":"round(datum.value*10) % 5 == 0","value":12},"value":6},"tickWidth":1.5,"tickColor":"black","labelFontSize":13.5,"labelColor":"black","labelPadding":9,"title":"AOT","titleFontSize":22,"titleFontWeight":"normal","titleColor":"black","titlePadding":8,"domain":false,"grid":false,"labelOverlap":false,"labelFlush":false}}},
"layer":[
{"data":{"name":"ld"},"transform":[{"fold":["k","o","b","r","v"],"as":["run","aot"]}],"mark":{"type":"line","strokeWidth":2.8},"encoding":{"color":{"field":"run","type":"nominal","scale":{"domain":["k","o","b","r","v"],"range":["#000000","#f2a62b","#1414d4","#e41a1a","#a035e6"]},"legend":null}}},
{"data":{"name":"aer"},"transform":[{"filter":"datum.p == 'd'"}],"mark":{"type":"circle","size":42,"color":"#000000","opacity":1}},
{"data":{"name":"him"},"transform":[{"filter":"datum.p == 'd'"}],"mark":{"type":"point","shape":"M0,-1L0,1M-0.866,-0.5L0.866,0.5M-0.866,0.5L0.866,-0.5","size":50,"filled":false,"color":"#3fe03f","strokeWidth":1.5,"opacity":1}}
]},
{"data":{"name":"aer"},"mark":{"type":"point","opacity":0},"encoding":{"x":{"field":"d","type":"quantitative","scale":{"domain":[10,24],"nice":false,"zero":false},"axis":{"values":[10,11,12,13,14,15,16,17,18,19,20,21,22,23,24],"labelExpr":"datum.value == 10 ? 'Mar-10' : datum.value == 24 ? 'Mar-24' : datum.label","title":"Time (UTC)","titleFontSize":22,"titleFontWeight":"normal","titleColor":"black","titlePadding":6,"labelFontSize":13.5,"labelColor":"black","labelPadding":10,"tickSize":12,"tickWidth":1.5,"tickColor":"black","domain":false,"grid":false,"labelFlush":false,"labelOverlap":false}},"y":{"field":"aot","type":"quantitative","scale":{"domain":[0,3.2],"nice":false},"axis":{"orient":"right","values":[0,0.1,0.2,0.3,0.4,0.5,0.6,0.7,0.8,0.9,1,1.1,1.2,1.3,1.4,1.5,1.6,1.7,1.8,1.9,2,2.1,2.2,2.3,2.4,2.5,2.6,2.7,2.8,2.9,3,3.1,3.2],"labels":false,"tickSize":{"condition":{"test":"round(datum.value*10) % 5 == 0","value":12},"value":6},"tickWidth":1.5,"tickColor":"black","title":null,"domain":false,"grid":false}}}},
{"data":{"name":"stats"},"transform":[{"filter":"datum.p == 'd' && datum.rank <= 2"}],"mark":{"type":"text","align":"center","baseline":"middle","fontSize":16.5},"encoding":{"x":{"datum":12.85,"type":"quantitative","scale":{"domain":[10,24],"nice":false,"zero":false},"axis":{"values":[10,11,12,13,14,15,16,17,18,19,20,21,22,23,24],"labelExpr":"datum.value == 10 ? 'Mar-10' : datum.value == 24 ? 'Mar-24' : datum.label","title":"Time (UTC)","titleFontSize":22,"titleFontWeight":"normal","titleColor":"black","titlePadding":6,"labelFontSize":13.5,"labelColor":"black","labelPadding":10,"tickSize":12,"tickWidth":1.5,"tickColor":"black","domain":false,"grid":false,"labelFlush":false,"labelOverlap":false}},"y":{"field":"rank","type":"quantitative","scale":{"domain":[0,15.9],"reverse":true,"nice":false,"zero":false},"axis":null},"text":{"field":"name"},"color":{"field":"run","type":"nominal","scale":{"domain":["k","o","b","r","v"],"range":["#000000","#f2a62b","#1414d4","#e41a1a","#a035e6"]},"legend":null}}},
{"data":{"name":"stats"},"transform":[{"filter":"datum.p == 'd' && datum.rank >= 3"}],"mark":{"type":"text","align":"center","baseline":"middle","fontSize":16.5},"encoding":{"x":{"datum":12.54,"type":"quantitative","scale":{"domain":[10,24],"nice":false,"zero":false},"axis":{"values":[10,11,12,13,14,15,16,17,18,19,20,21,22,23,24],"labelExpr":"datum.value == 10 ? 'Mar-10' : datum.value == 24 ? 'Mar-24' : datum.label","title":"Time (UTC)","titleFontSize":22,"titleFontWeight":"normal","titleColor":"black","titlePadding":6,"labelFontSize":13.5,"labelColor":"black","labelPadding":10,"tickSize":12,"tickWidth":1.5,"tickColor":"black","domain":false,"grid":false,"labelFlush":false,"labelOverlap":false}},"y":{"field":"rank","type":"quantitative","scale":{"domain":[0,15.9],"reverse":true,"nice":false,"zero":false},"axis":null},"text":{"field":"name"},"color":{"field":"run","type":"nominal","scale":{"domain":["k","o","b","r","v"],"range":["#000000","#f2a62b","#1414d4","#e41a1a","#a035e6"]},"legend":null}}},
{"data":{"name":"stats"},"transform":[{"filter":"datum.p == 'd'"}],"mark":{"type":"text","align":"left","baseline":"middle","fontSize":16.5},"encoding":{"x":{"datum":14.89,"type":"quantitative","scale":{"domain":[10,24],"nice":false,"zero":false},"axis":{"values":[10,11,12,13,14,15,16,17,18,19,20,21,22,23,24],"labelExpr":"datum.value == 10 ? 'Mar-10' : datum.value == 24 ? 'Mar-24' : datum.label","title":"Time (UTC)","titleFontSize":22,"titleFontWeight":"normal","titleColor":"black","titlePadding":6,"labelFontSize":13.5,"labelColor":"black","labelPadding":10,"tickSize":12,"tickWidth":1.5,"tickColor":"black","domain":false,"grid":false,"labelFlush":false,"labelOverlap":false}},"y":{"field":"rank","type":"quantitative","scale":{"domain":[0,15.9],"reverse":true,"nice":false,"zero":false},"axis":null},"text":{"field":"B"},"color":{"field":"run","type":"nominal","scale":{"domain":["k","o","b","r","v"],"range":["#000000","#f2a62b","#1414d4","#e41a1a","#a035e6"]},"legend":null}}},
{"data":{"name":"stats"},"transform":[{"filter":"datum.p == 'd'"}],"mark":{"type":"text","align":"left","baseline":"middle","fontSize":16.5},"encoding":{"x":{"datum":17.28,"type":"quantitative","scale":{"domain":[10,24],"nice":false,"zero":false},"axis":{"values":[10,11,12,13,14,15,16,17,18,19,20,21,22,23,24],"labelExpr":"datum.value == 10 ? 'Mar-10' : datum.value == 24 ? 'Mar-24' : datum.label","title":"Time (UTC)","titleFontSize":22,"titleFontWeight":"normal","titleColor":"black","titlePadding":6,"labelFontSize":13.5,"labelColor":"black","labelPadding":10,"tickSize":12,"tickWidth":1.5,"tickColor":"black","domain":false,"grid":false,"labelFlush":false,"labelOverlap":false}},"y":{"field":"rank","type":"quantitative","scale":{"domain":[0,15.9],"reverse":true,"nice":false,"zero":false},"axis":null},"text":{"field":"R"},"color":{"field":"run","type":"nominal","scale":{"domain":["k","o","b","r","v"],"range":["#000000","#f2a62b","#1414d4","#e41a1a","#a035e6"]},"legend":null}}},
{"data":{"name":"stats"},"transform":[{"filter":"datum.p == 'd'"}],"mark":{"type":"text","align":"left","baseline":"middle","fontSize":16.5},"encoding":{"x":{"datum":19.66,"type":"quantitative","scale":{"domain":[10,24],"nice":false,"zero":false},"axis":{"values":[10,11,12,13,14,15,16,17,18,19,20,21,22,23,24],"labelExpr":"datum.value == 10 ? 'Mar-10' : datum.value == 24 ? 'Mar-24' : datum.label","title":"Time (UTC)","titleFontSize":22,"titleFontWeight":"normal","titleColor":"black","titlePadding":6,"labelFontSize":13.5,"labelColor":"black","labelPadding":10,"tickSize":12,"tickWidth":1.5,"tickColor":"black","domain":false,"grid":false,"labelFlush":false,"labelOverlap":false}},"y":{"field":"rank","type":"quantitative","scale":{"domain":[0,15.9],"reverse":true,"nice":false,"zero":false},"axis":null},"text":{"field":"C"},"color":{"field":"run","type":"nominal","scale":{"domain":["k","o","b","r","v"],"range":["#000000","#f2a62b","#1414d4","#e41a1a","#a035e6"]},"legend":null}}}
],
"resolve":{"scale":{"y":"independent"},"axis":{"y":"independent"}}}
]
}
